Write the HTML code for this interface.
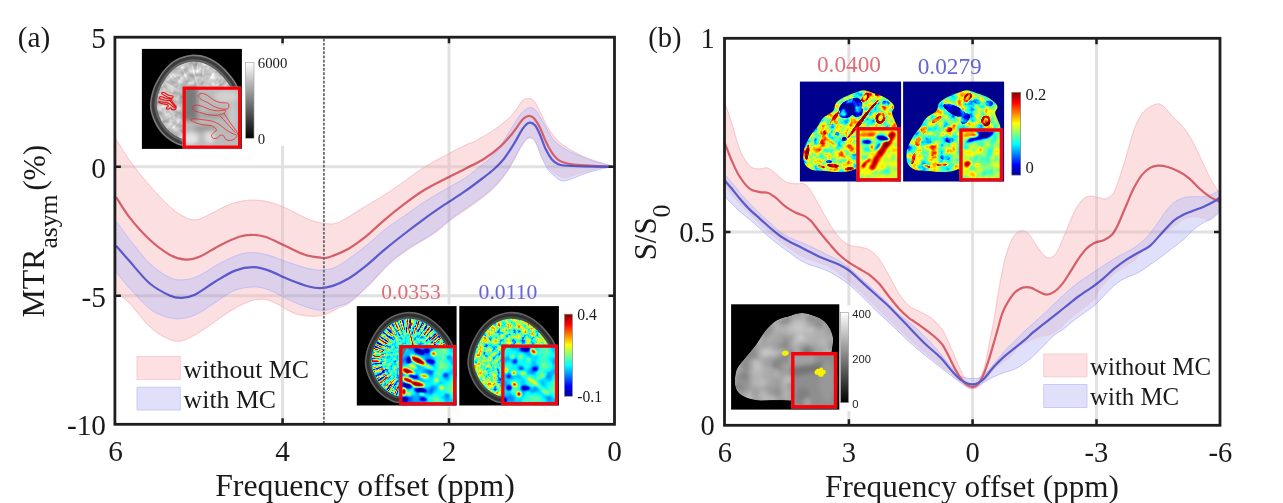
<!DOCTYPE html><html><head><meta charset="utf-8"><title>Figure</title><style>html,body{margin:0;padding:0;background:#fff}svg{display:block}</style></head><body>
<svg width="1283" height="503" viewBox="0 0 1283 503">
<defs>
<linearGradient id="gray" x1="0" y1="0" x2="0" y2="1"><stop offset="0" stop-color="#fff"/><stop offset="1" stop-color="#000"/></linearGradient>
<linearGradient id="jet" x1="0" y1="1" x2="0" y2="0">
<stop offset="0" stop-color="#00008f"/><stop offset="0.125" stop-color="#0000ff"/><stop offset="0.375" stop-color="#00ffff"/><stop offset="0.5" stop-color="#80ff80"/><stop offset="0.625" stop-color="#ffff00"/><stop offset="0.875" stop-color="#ff0000"/><stop offset="1" stop-color="#800000"/></linearGradient>
<clipPath id="clipA"><rect x="114.9" y="37.2" width="499.6" height="387.1"/></clipPath>
<clipPath id="clipB"><rect x="724.5" y="38.3" width="495.5" height="387"/></clipPath>
<filter id="fjet" color-interpolation-filters="sRGB" x="-5%" y="-5%" width="110%" height="110%">
<feGaussianBlur stdDeviation="0.55" result="b"/>
<feTurbulence type="fractalNoise" baseFrequency="0.33" numOctaves="2" seed="7" result="n"/>
<feColorMatrix in="n" type="matrix" values="1 0 0 0 0 1 0 0 0 0 1 0 0 0 0 0 0 0 0 1" result="ng"/>
<feComposite in="b" in2="ng" operator="arithmetic" k1="0" k2="1" k3="0.9" k4="-0.45" result="v"/>
<feComponentTransfer in="v" result="c"><feFuncR type="table" tableValues="0 0 0 0 0.5 1 1 1 0.5"/><feFuncG type="table" tableValues="0 0 0.5 1 1 1 0.5 0 0"/><feFuncB type="table" tableValues="0.56 1 1 1 0.5 0 0 0 0"/></feComponentTransfer>
<feComposite in="c" in2="SourceAlpha" operator="in"/>
</filter>
<filter id="fjets" color-interpolation-filters="sRGB" x="-5%" y="-5%" width="110%" height="110%">
<feGaussianBlur stdDeviation="1.6" result="b"/>
<feComponentTransfer in="b" result="c"><feFuncR type="table" tableValues="0 0 0 0 0.5 1 1 1 0.5"/><feFuncG type="table" tableValues="0 0 0.5 1 1 1 0.5 0 0"/><feFuncB type="table" tableValues="0.56 1 1 1 0.5 0 0 0 0"/></feComponentTransfer>
<feComposite in="c" in2="SourceAlpha" operator="in"/>
</filter>
<filter id="fgray" color-interpolation-filters="sRGB" x="-5%" y="-5%" width="110%" height="110%">
<feGaussianBlur stdDeviation="0.6" result="b"/>
<feTurbulence type="fractalNoise" baseFrequency="0.16" numOctaves="2" seed="11" result="n"/>
<feColorMatrix in="n" type="matrix" values="1 0 0 0 0 1 0 0 0 0 1 0 0 0 0 0 0 0 0 1" result="ng"/>
<feComposite in="b" in2="ng" operator="arithmetic" k1="0.5" k2="0.6" k3="0" k4="0" result="v"/>
<feComposite in="v" in2="SourceAlpha" operator="in"/>
</filter>
<filter id="fblur" x="-5%" y="-5%" width="110%" height="110%"><feGaussianBlur stdDeviation="0.7"/></filter>
<filter id="fblur2" x="-5%" y="-5%" width="110%" height="110%"><feGaussianBlur stdDeviation="2.2"/></filter>
</defs>
<rect width="1283" height="503" fill="#fff"/>
<g stroke="#000" opacity="0.115" stroke-width="3" fill="none"><path d="M115.5 166.7H614.5 M115.5 295.7H614.5"/><path d="M282.6 38V45.5 M282.6 146V424"/><path d="M449.0 38V304.5 M449.0 407V424"/></g>
<g clip-path="url(#clipA)"><clipPath id="cpA"><path d="M116.0 139.0C118.3 142.6 124.3 153.0 129.9 160.8C135.5 168.6 143.2 178.1 149.8 185.7C156.4 193.3 164.0 201.4 169.6 206.5C175.2 211.6 179.3 214.3 183.6 216.5C187.9 218.7 191.2 220.2 195.5 219.9C199.8 219.6 203.8 217.1 209.4 214.5C215.0 211.9 222.7 207.0 229.3 204.6C235.9 202.2 242.6 200.6 249.2 200.2C255.8 199.8 262.4 200.4 269.0 202.0C275.6 203.6 282.3 206.6 288.9 209.5C295.5 212.4 302.8 217.2 308.8 219.5C314.8 221.8 319.7 222.9 324.7 223.4C329.7 223.9 331.9 225.2 338.6 222.4C345.3 219.6 357.3 211.2 365.0 206.6C372.7 202.0 378.3 199.0 384.9 194.7C391.5 190.4 398.2 185.6 404.8 181.0C411.4 176.4 417.3 171.5 424.6 167.0C431.9 162.5 441.9 157.4 448.5 153.8C455.1 150.2 459.8 147.8 464.4 145.6C469.0 143.4 471.3 143.2 476.3 140.6C481.3 137.9 488.9 133.3 494.2 129.7C499.5 126.1 504.5 122.1 508.1 118.8C511.8 115.5 513.8 112.8 516.1 109.8C518.4 106.8 520.1 102.8 522.1 100.9C524.1 99.0 526.0 98.5 528.0 98.5C530.0 98.5 532.0 98.7 534.0 100.9C536.0 103.1 537.7 107.3 540.0 111.8C542.3 116.3 545.2 123.2 547.9 127.7C550.5 132.2 553.2 135.6 555.9 138.6C558.5 141.6 560.8 143.4 563.8 145.6C566.8 147.8 570.4 149.8 573.7 151.6C577.0 153.4 580.4 155.0 583.7 156.5C587.0 158.0 590.3 159.3 593.6 160.5C596.9 161.7 600.3 162.5 603.6 163.5C606.9 164.5 611.9 166.0 613.5 166.5L613.5 166.9C611.9 167.1 606.9 167.3 603.6 167.8C600.3 168.3 596.9 169.2 593.6 169.9C590.3 170.6 587.0 171.1 583.7 172.0C580.4 172.9 577.0 174.4 573.7 175.4C570.4 176.4 567.1 178.2 563.8 177.8C560.5 177.4 556.5 174.7 553.9 173.0C551.2 171.3 549.9 170.2 547.9 167.5C545.9 164.8 544.0 161.4 541.9 157.0C539.8 152.6 537.0 144.3 535.0 141.2C533.0 138.0 531.5 138.3 530.0 138.1C528.5 137.9 527.6 138.4 526.0 140.2C524.4 141.9 522.8 144.1 520.1 148.6C517.5 153.1 513.4 161.6 510.1 167.0C506.8 172.4 503.8 176.7 500.2 181.0C496.6 185.3 492.9 189.0 488.3 193.0C483.7 197.0 478.4 200.7 472.4 205.0C466.4 209.3 459.1 213.9 452.5 218.8C445.9 223.7 439.8 229.6 432.6 234.5C425.4 239.4 416.7 243.6 409.5 248.5C402.3 253.4 396.2 257.7 389.6 263.7C383.0 269.7 376.4 278.1 369.8 284.6C363.2 291.1 355.1 298.6 349.9 302.5C344.7 306.4 342.8 305.8 338.6 307.8C334.4 309.8 329.7 313.3 324.7 314.7C319.7 316.1 314.1 316.4 308.8 316.1C303.5 315.8 297.9 314.6 292.9 312.7C287.9 310.8 283.6 307.0 279.0 304.8C274.4 302.6 270.1 300.0 265.1 299.4C260.1 298.8 255.2 299.3 249.2 301.4C243.2 303.4 235.3 308.1 229.3 311.7C223.3 315.2 219.0 318.9 213.4 322.7C207.8 326.5 201.1 331.5 195.5 334.6C189.9 337.7 184.6 340.7 179.6 341.2C174.6 341.7 170.7 340.0 165.7 337.6C160.7 335.2 155.8 332.3 149.8 326.7C143.8 321.1 135.5 309.6 129.9 303.8C124.3 298.0 118.3 293.9 116.0 291.9Z"/></clipPath><clipPath id="cuA"><path d="M116.0 139.0C118.3 142.6 124.3 153.0 129.9 160.8C135.5 168.6 143.2 178.1 149.8 185.7C156.4 193.3 164.0 201.4 169.6 206.5C175.2 211.6 179.3 214.3 183.6 216.5C187.9 218.7 191.2 220.2 195.5 219.9C199.8 219.6 203.8 217.1 209.4 214.5C215.0 211.9 222.7 207.0 229.3 204.6C235.9 202.2 242.6 200.6 249.2 200.2C255.8 199.8 262.4 200.4 269.0 202.0C275.6 203.6 282.3 206.6 288.9 209.5C295.5 212.4 302.8 217.2 308.8 219.5C314.8 221.8 319.7 222.9 324.7 223.4C329.7 223.9 331.9 225.2 338.6 222.4C345.3 219.6 357.3 211.2 365.0 206.6C372.7 202.0 378.3 199.0 384.9 194.7C391.5 190.4 398.2 185.6 404.8 181.0C411.4 176.4 417.3 171.5 424.6 167.0C431.9 162.5 441.9 157.4 448.5 153.8C455.1 150.2 459.8 147.8 464.4 145.6C469.0 143.4 471.3 143.2 476.3 140.6C481.3 137.9 488.9 133.3 494.2 129.7C499.5 126.1 504.5 122.1 508.1 118.8C511.8 115.5 513.8 112.8 516.1 109.8C518.4 106.8 520.1 102.8 522.1 100.9C524.1 99.0 526.0 98.5 528.0 98.5C530.0 98.5 532.0 98.7 534.0 100.9C536.0 103.1 537.7 107.3 540.0 111.8C542.3 116.3 545.2 123.2 547.9 127.7C550.5 132.2 553.2 135.6 555.9 138.6C558.5 141.6 560.8 143.4 563.8 145.6C566.8 147.8 570.4 149.8 573.7 151.6C577.0 153.4 580.4 155.0 583.7 156.5C587.0 158.0 590.3 159.3 593.6 160.5C596.9 161.7 600.3 162.5 603.6 163.5C606.9 164.5 611.9 166.0 613.5 166.5L613.5 166.9C611.9 167.1 606.9 167.3 603.6 167.8C600.3 168.3 596.9 169.2 593.6 169.9C590.3 170.6 587.0 171.1 583.7 172.0C580.4 172.9 577.0 174.4 573.7 175.4C570.4 176.4 567.1 178.2 563.8 177.8C560.5 177.4 556.5 174.7 553.9 173.0C551.2 171.3 549.9 170.2 547.9 167.5C545.9 164.8 544.0 161.4 541.9 157.0C539.8 152.6 537.0 144.3 535.0 141.2C533.0 138.0 531.5 138.3 530.0 138.1C528.5 137.9 527.6 138.4 526.0 140.2C524.4 141.9 522.8 144.1 520.1 148.6C517.5 153.1 513.4 161.6 510.1 167.0C506.8 172.4 503.8 176.7 500.2 181.0C496.6 185.3 492.9 189.0 488.3 193.0C483.7 197.0 478.4 200.7 472.4 205.0C466.4 209.3 459.1 213.9 452.5 218.8C445.9 223.7 439.8 229.6 432.6 234.5C425.4 239.4 416.7 243.6 409.5 248.5C402.3 253.4 396.2 257.7 389.6 263.7C383.0 269.7 376.4 278.1 369.8 284.6C363.2 291.1 355.1 298.6 349.9 302.5C344.7 306.4 342.8 305.8 338.6 307.8C334.4 309.8 329.7 313.3 324.7 314.7C319.7 316.1 314.1 316.4 308.8 316.1C303.5 315.8 297.9 314.6 292.9 312.7C287.9 310.8 283.6 307.0 279.0 304.8C274.4 302.6 270.1 300.0 265.1 299.4C260.1 298.8 255.2 299.3 249.2 301.4C243.2 303.4 235.3 308.1 229.3 311.7C223.3 315.2 219.0 318.9 213.4 322.7C207.8 326.5 201.1 331.5 195.5 334.6C189.9 337.7 184.6 340.7 179.6 341.2C174.6 341.7 170.7 340.0 165.7 337.6C160.7 335.2 155.8 332.3 149.8 326.7C143.8 321.1 135.5 309.6 129.9 303.8C124.3 298.0 118.3 293.9 116.0 291.9Z"/><path d="M116.0 220.9C118.3 224.1 124.3 232.7 129.9 239.8C135.5 246.9 143.2 257.3 149.8 263.6C156.4 269.9 164.0 274.8 169.6 277.5C175.2 280.2 178.6 280.2 183.6 279.9C188.6 279.6 193.6 278.2 199.5 275.5C205.4 272.8 212.7 267.1 219.3 263.6C225.9 260.1 233.6 256.5 239.2 254.7C244.8 252.9 248.1 252.6 253.1 252.7C258.1 252.8 263.0 253.7 269.0 255.3C275.0 257.0 282.3 260.4 288.9 262.6C295.5 264.8 303.2 267.4 308.8 268.6C314.4 269.8 317.7 270.5 322.7 270.0C327.7 269.5 331.6 269.5 338.6 265.6C345.7 261.7 357.3 252.5 365.0 246.5C372.7 240.5 378.3 234.7 384.9 229.5C391.5 224.3 398.2 220.2 404.8 215.6C411.4 211.0 418.0 206.0 424.6 201.7C431.2 197.4 437.9 193.7 444.5 189.8C451.1 185.9 459.1 181.9 464.4 178.5C469.7 175.1 471.3 173.5 476.3 169.5C481.3 165.5 488.9 160.5 494.2 154.5C499.5 148.5 504.1 139.8 508.1 133.7C512.1 127.6 515.5 121.6 518.1 117.8C520.8 114.0 522.0 112.5 524.0 110.8C526.0 109.1 528.0 107.8 530.0 107.8C532.0 107.8 533.7 108.1 536.0 110.8C538.3 113.5 541.2 119.2 543.9 123.7C546.5 128.2 549.2 134.0 551.9 137.7C554.5 141.3 556.5 143.1 559.8 145.6C563.1 148.1 567.8 150.6 571.8 152.6C575.8 154.6 580.1 156.1 583.7 157.5C587.3 158.9 590.3 160.0 593.6 161.1C596.9 162.2 600.3 163.0 603.6 163.9C606.9 164.8 611.9 166.1 613.5 166.5L613.5 166.9C611.9 167.1 606.9 167.6 603.6 168.3C600.3 169.0 596.9 170.0 593.6 170.9C590.3 171.8 587.3 172.6 583.7 173.9C580.1 175.2 575.4 177.7 571.8 178.8C568.1 180.0 564.8 181.4 561.8 180.8C558.8 180.2 556.2 177.4 553.9 175.5C551.6 173.6 549.9 172.5 547.9 169.5C545.9 166.5 544.0 162.3 541.9 157.5C539.8 152.7 537.0 144.0 535.0 140.6C533.0 137.2 531.5 137.3 530.0 137.1C528.5 136.9 527.6 137.4 526.0 139.2C524.4 140.9 522.8 143.1 520.1 147.6C517.5 152.1 513.4 160.5 510.1 165.9C506.8 171.3 503.8 175.5 500.2 179.8C496.6 184.1 492.9 187.7 488.3 191.7C483.7 195.7 478.4 199.4 472.4 203.7C466.4 208.0 459.1 212.6 452.5 217.6C445.9 222.6 439.8 228.5 432.6 233.5C425.4 238.5 416.7 242.6 409.5 247.5C402.3 252.4 396.2 256.7 389.6 262.7C383.0 268.7 376.4 277.1 369.8 283.6C363.2 290.1 355.1 297.8 349.9 301.5C344.7 305.2 342.8 304.3 338.6 305.8C334.4 307.3 329.7 310.1 324.7 310.4C319.7 310.7 314.8 309.6 308.8 307.8C302.8 306.0 295.5 302.8 288.9 299.8C282.3 296.8 275.0 292.0 269.0 289.9C263.0 287.8 259.1 286.7 253.1 286.9C247.2 287.1 239.9 288.1 233.3 290.9C226.7 293.7 219.7 299.8 213.4 303.8C207.1 307.8 201.1 312.2 195.5 314.7C189.9 317.2 184.6 318.4 179.6 318.7C174.6 319.0 170.7 318.3 165.7 316.7C160.7 315.1 155.8 313.5 149.8 308.8C143.8 304.1 135.5 294.6 129.9 288.5C124.3 282.4 118.3 274.8 116.0 272.0Z"/></clipPath><path d="M116.0 139.0C118.3 142.6 124.3 153.0 129.9 160.8C135.5 168.6 143.2 178.1 149.8 185.7C156.4 193.3 164.0 201.4 169.6 206.5C175.2 211.6 179.3 214.3 183.6 216.5C187.9 218.7 191.2 220.2 195.5 219.9C199.8 219.6 203.8 217.1 209.4 214.5C215.0 211.9 222.7 207.0 229.3 204.6C235.9 202.2 242.6 200.6 249.2 200.2C255.8 199.8 262.4 200.4 269.0 202.0C275.6 203.6 282.3 206.6 288.9 209.5C295.5 212.4 302.8 217.2 308.8 219.5C314.8 221.8 319.7 222.9 324.7 223.4C329.7 223.9 331.9 225.2 338.6 222.4C345.3 219.6 357.3 211.2 365.0 206.6C372.7 202.0 378.3 199.0 384.9 194.7C391.5 190.4 398.2 185.6 404.8 181.0C411.4 176.4 417.3 171.5 424.6 167.0C431.9 162.5 441.9 157.4 448.5 153.8C455.1 150.2 459.8 147.8 464.4 145.6C469.0 143.4 471.3 143.2 476.3 140.6C481.3 137.9 488.9 133.3 494.2 129.7C499.5 126.1 504.5 122.1 508.1 118.8C511.8 115.5 513.8 112.8 516.1 109.8C518.4 106.8 520.1 102.8 522.1 100.9C524.1 99.0 526.0 98.5 528.0 98.5C530.0 98.5 532.0 98.7 534.0 100.9C536.0 103.1 537.7 107.3 540.0 111.8C542.3 116.3 545.2 123.2 547.9 127.7C550.5 132.2 553.2 135.6 555.9 138.6C558.5 141.6 560.8 143.4 563.8 145.6C566.8 147.8 570.4 149.8 573.7 151.6C577.0 153.4 580.4 155.0 583.7 156.5C587.0 158.0 590.3 159.3 593.6 160.5C596.9 161.7 600.3 162.5 603.6 163.5C606.9 164.5 611.9 166.0 613.5 166.5L613.5 166.9C611.9 167.1 606.9 167.3 603.6 167.8C600.3 168.3 596.9 169.2 593.6 169.9C590.3 170.6 587.0 171.1 583.7 172.0C580.4 172.9 577.0 174.4 573.7 175.4C570.4 176.4 567.1 178.2 563.8 177.8C560.5 177.4 556.5 174.7 553.9 173.0C551.2 171.3 549.9 170.2 547.9 167.5C545.9 164.8 544.0 161.4 541.9 157.0C539.8 152.6 537.0 144.3 535.0 141.2C533.0 138.0 531.5 138.3 530.0 138.1C528.5 137.9 527.6 138.4 526.0 140.2C524.4 141.9 522.8 144.1 520.1 148.6C517.5 153.1 513.4 161.6 510.1 167.0C506.8 172.4 503.8 176.7 500.2 181.0C496.6 185.3 492.9 189.0 488.3 193.0C483.7 197.0 478.4 200.7 472.4 205.0C466.4 209.3 459.1 213.9 452.5 218.8C445.9 223.7 439.8 229.6 432.6 234.5C425.4 239.4 416.7 243.6 409.5 248.5C402.3 253.4 396.2 257.7 389.6 263.7C383.0 269.7 376.4 278.1 369.8 284.6C363.2 291.1 355.1 298.6 349.9 302.5C344.7 306.4 342.8 305.8 338.6 307.8C334.4 309.8 329.7 313.3 324.7 314.7C319.7 316.1 314.1 316.4 308.8 316.1C303.5 315.8 297.9 314.6 292.9 312.7C287.9 310.8 283.6 307.0 279.0 304.8C274.4 302.6 270.1 300.0 265.1 299.4C260.1 298.8 255.2 299.3 249.2 301.4C243.2 303.4 235.3 308.1 229.3 311.7C223.3 315.2 219.0 318.9 213.4 322.7C207.8 326.5 201.1 331.5 195.5 334.6C189.9 337.7 184.6 340.7 179.6 341.2C174.6 341.7 170.7 340.0 165.7 337.6C160.7 335.2 155.8 332.3 149.8 326.7C143.8 321.1 135.5 309.6 129.9 303.8C124.3 298.0 118.3 293.9 116.0 291.9Z" fill="#FCDFE0" stroke="#F7C2C6" stroke-width="0.7"/><path d="M116.0 220.9C118.3 224.1 124.3 232.7 129.9 239.8C135.5 246.9 143.2 257.3 149.8 263.6C156.4 269.9 164.0 274.8 169.6 277.5C175.2 280.2 178.6 280.2 183.6 279.9C188.6 279.6 193.6 278.2 199.5 275.5C205.4 272.8 212.7 267.1 219.3 263.6C225.9 260.1 233.6 256.5 239.2 254.7C244.8 252.9 248.1 252.6 253.1 252.7C258.1 252.8 263.0 253.7 269.0 255.3C275.0 257.0 282.3 260.4 288.9 262.6C295.5 264.8 303.2 267.4 308.8 268.6C314.4 269.8 317.7 270.5 322.7 270.0C327.7 269.5 331.6 269.5 338.6 265.6C345.7 261.7 357.3 252.5 365.0 246.5C372.7 240.5 378.3 234.7 384.9 229.5C391.5 224.3 398.2 220.2 404.8 215.6C411.4 211.0 418.0 206.0 424.6 201.7C431.2 197.4 437.9 193.7 444.5 189.8C451.1 185.9 459.1 181.9 464.4 178.5C469.7 175.1 471.3 173.5 476.3 169.5C481.3 165.5 488.9 160.5 494.2 154.5C499.5 148.5 504.1 139.8 508.1 133.7C512.1 127.6 515.5 121.6 518.1 117.8C520.8 114.0 522.0 112.5 524.0 110.8C526.0 109.1 528.0 107.8 530.0 107.8C532.0 107.8 533.7 108.1 536.0 110.8C538.3 113.5 541.2 119.2 543.9 123.7C546.5 128.2 549.2 134.0 551.9 137.7C554.5 141.3 556.5 143.1 559.8 145.6C563.1 148.1 567.8 150.6 571.8 152.6C575.8 154.6 580.1 156.1 583.7 157.5C587.3 158.9 590.3 160.0 593.6 161.1C596.9 162.2 600.3 163.0 603.6 163.9C606.9 164.8 611.9 166.1 613.5 166.5L613.5 166.9C611.9 167.1 606.9 167.6 603.6 168.3C600.3 169.0 596.9 170.0 593.6 170.9C590.3 171.8 587.3 172.6 583.7 173.9C580.1 175.2 575.4 177.7 571.8 178.8C568.1 180.0 564.8 181.4 561.8 180.8C558.8 180.2 556.2 177.4 553.9 175.5C551.6 173.6 549.9 172.5 547.9 169.5C545.9 166.5 544.0 162.3 541.9 157.5C539.8 152.7 537.0 144.0 535.0 140.6C533.0 137.2 531.5 137.3 530.0 137.1C528.5 136.9 527.6 137.4 526.0 139.2C524.4 140.9 522.8 143.1 520.1 147.6C517.5 152.1 513.4 160.5 510.1 165.9C506.8 171.3 503.8 175.5 500.2 179.8C496.6 184.1 492.9 187.7 488.3 191.7C483.7 195.7 478.4 199.4 472.4 203.7C466.4 208.0 459.1 212.6 452.5 217.6C445.9 222.6 439.8 228.5 432.6 233.5C425.4 238.5 416.7 242.6 409.5 247.5C402.3 252.4 396.2 256.7 389.6 262.7C383.0 268.7 376.4 277.1 369.8 283.6C363.2 290.1 355.1 297.8 349.9 301.5C344.7 305.2 342.8 304.3 338.6 305.8C334.4 307.3 329.7 310.1 324.7 310.4C319.7 310.7 314.8 309.6 308.8 307.8C302.8 306.0 295.5 302.8 288.9 299.8C282.3 296.8 275.0 292.0 269.0 289.9C263.0 287.8 259.1 286.7 253.1 286.9C247.2 287.1 239.9 288.1 233.3 290.9C226.7 293.7 219.7 299.8 213.4 303.8C207.1 307.8 201.1 312.2 195.5 314.7C189.9 317.2 184.6 318.4 179.6 318.7C174.6 319.0 170.7 318.3 165.7 316.7C160.7 315.1 155.8 313.5 149.8 308.8C143.8 304.1 135.5 294.6 129.9 288.5C124.3 282.4 118.3 274.8 116.0 272.0Z" fill="#E0E0FA"/><path d="M116.0 220.9C118.3 224.1 124.3 232.7 129.9 239.8C135.5 246.9 143.2 257.3 149.8 263.6C156.4 269.9 164.0 274.8 169.6 277.5C175.2 280.2 178.6 280.2 183.6 279.9C188.6 279.6 193.6 278.2 199.5 275.5C205.4 272.8 212.7 267.1 219.3 263.6C225.9 260.1 233.6 256.5 239.2 254.7C244.8 252.9 248.1 252.6 253.1 252.7C258.1 252.8 263.0 253.7 269.0 255.3C275.0 257.0 282.3 260.4 288.9 262.6C295.5 264.8 303.2 267.4 308.8 268.6C314.4 269.8 317.7 270.5 322.7 270.0C327.7 269.5 331.6 269.5 338.6 265.6C345.7 261.7 357.3 252.5 365.0 246.5C372.7 240.5 378.3 234.7 384.9 229.5C391.5 224.3 398.2 220.2 404.8 215.6C411.4 211.0 418.0 206.0 424.6 201.7C431.2 197.4 437.9 193.7 444.5 189.8C451.1 185.9 459.1 181.9 464.4 178.5C469.7 175.1 471.3 173.5 476.3 169.5C481.3 165.5 488.9 160.5 494.2 154.5C499.5 148.5 504.1 139.8 508.1 133.7C512.1 127.6 515.5 121.6 518.1 117.8C520.8 114.0 522.0 112.5 524.0 110.8C526.0 109.1 528.0 107.8 530.0 107.8C532.0 107.8 533.7 108.1 536.0 110.8C538.3 113.5 541.2 119.2 543.9 123.7C546.5 128.2 549.2 134.0 551.9 137.7C554.5 141.3 556.5 143.1 559.8 145.6C563.1 148.1 567.8 150.6 571.8 152.6C575.8 154.6 580.1 156.1 583.7 157.5C587.3 158.9 590.3 160.0 593.6 161.1C596.9 162.2 600.3 163.0 603.6 163.9C606.9 164.8 611.9 166.1 613.5 166.5L613.5 166.9C611.9 167.1 606.9 167.6 603.6 168.3C600.3 169.0 596.9 170.0 593.6 170.9C590.3 171.8 587.3 172.6 583.7 173.9C580.1 175.2 575.4 177.7 571.8 178.8C568.1 180.0 564.8 181.4 561.8 180.8C558.8 180.2 556.2 177.4 553.9 175.5C551.6 173.6 549.9 172.5 547.9 169.5C545.9 166.5 544.0 162.3 541.9 157.5C539.8 152.7 537.0 144.0 535.0 140.6C533.0 137.2 531.5 137.3 530.0 137.1C528.5 136.9 527.6 137.4 526.0 139.2C524.4 140.9 522.8 143.1 520.1 147.6C517.5 152.1 513.4 160.5 510.1 165.9C506.8 171.3 503.8 175.5 500.2 179.8C496.6 184.1 492.9 187.7 488.3 191.7C483.7 195.7 478.4 199.4 472.4 203.7C466.4 208.0 459.1 212.6 452.5 217.6C445.9 222.6 439.8 228.5 432.6 233.5C425.4 238.5 416.7 242.6 409.5 247.5C402.3 252.4 396.2 256.7 389.6 262.7C383.0 268.7 376.4 277.1 369.8 283.6C363.2 290.1 355.1 297.8 349.9 301.5C344.7 305.2 342.8 304.3 338.6 305.8C334.4 307.3 329.7 310.1 324.7 310.4C319.7 310.7 314.8 309.6 308.8 307.8C302.8 306.0 295.5 302.8 288.9 299.8C282.3 296.8 275.0 292.0 269.0 289.9C263.0 287.8 259.1 286.7 253.1 286.9C247.2 287.1 239.9 288.1 233.3 290.9C226.7 293.7 219.7 299.8 213.4 303.8C207.1 307.8 201.1 312.2 195.5 314.7C189.9 317.2 184.6 318.4 179.6 318.7C174.6 319.0 170.7 318.3 165.7 316.7C160.7 315.1 155.8 313.5 149.8 308.8C143.8 304.1 135.5 294.6 129.9 288.5C124.3 282.4 118.3 274.8 116.0 272.0Z" fill="#DDD0EA" clip-path="url(#cpA)"/><path d="M116.0 139.0C118.3 142.6 124.3 153.0 129.9 160.8C135.5 168.6 143.2 178.1 149.8 185.7C156.4 193.3 164.0 201.4 169.6 206.5C175.2 211.6 179.3 214.3 183.6 216.5C187.9 218.7 191.2 220.2 195.5 219.9C199.8 219.6 203.8 217.1 209.4 214.5C215.0 211.9 222.7 207.0 229.3 204.6C235.9 202.2 242.6 200.6 249.2 200.2C255.8 199.8 262.4 200.4 269.0 202.0C275.6 203.6 282.3 206.6 288.9 209.5C295.5 212.4 302.8 217.2 308.8 219.5C314.8 221.8 319.7 222.9 324.7 223.4C329.7 223.9 331.9 225.2 338.6 222.4C345.3 219.6 357.3 211.2 365.0 206.6C372.7 202.0 378.3 199.0 384.9 194.7C391.5 190.4 398.2 185.6 404.8 181.0C411.4 176.4 417.3 171.5 424.6 167.0C431.9 162.5 441.9 157.4 448.5 153.8C455.1 150.2 459.8 147.8 464.4 145.6C469.0 143.4 471.3 143.2 476.3 140.6C481.3 137.9 488.9 133.3 494.2 129.7C499.5 126.1 504.5 122.1 508.1 118.8C511.8 115.5 513.8 112.8 516.1 109.8C518.4 106.8 520.1 102.8 522.1 100.9C524.1 99.0 526.0 98.5 528.0 98.5C530.0 98.5 532.0 98.7 534.0 100.9C536.0 103.1 537.7 107.3 540.0 111.8C542.3 116.3 545.2 123.2 547.9 127.7C550.5 132.2 553.2 135.6 555.9 138.6C558.5 141.6 560.8 143.4 563.8 145.6C566.8 147.8 570.4 149.8 573.7 151.6C577.0 153.4 580.4 155.0 583.7 156.5C587.0 158.0 590.3 159.3 593.6 160.5C596.9 161.7 600.3 162.5 603.6 163.5C606.9 164.5 611.9 166.0 613.5 166.5L613.5 166.9C611.9 167.1 606.9 167.3 603.6 167.8C600.3 168.3 596.9 169.2 593.6 169.9C590.3 170.6 587.0 171.1 583.7 172.0C580.4 172.9 577.0 174.4 573.7 175.4C570.4 176.4 567.1 178.2 563.8 177.8C560.5 177.4 556.5 174.7 553.9 173.0C551.2 171.3 549.9 170.2 547.9 167.5C545.9 164.8 544.0 161.4 541.9 157.0C539.8 152.6 537.0 144.3 535.0 141.2C533.0 138.0 531.5 138.3 530.0 138.1C528.5 137.9 527.6 138.4 526.0 140.2C524.4 141.9 522.8 144.1 520.1 148.6C517.5 153.1 513.4 161.6 510.1 167.0C506.8 172.4 503.8 176.7 500.2 181.0C496.6 185.3 492.9 189.0 488.3 193.0C483.7 197.0 478.4 200.7 472.4 205.0C466.4 209.3 459.1 213.9 452.5 218.8C445.9 223.7 439.8 229.6 432.6 234.5C425.4 239.4 416.7 243.6 409.5 248.5C402.3 253.4 396.2 257.7 389.6 263.7C383.0 269.7 376.4 278.1 369.8 284.6C363.2 291.1 355.1 298.6 349.9 302.5C344.7 306.4 342.8 305.8 338.6 307.8C334.4 309.8 329.7 313.3 324.7 314.7C319.7 316.1 314.1 316.4 308.8 316.1C303.5 315.8 297.9 314.6 292.9 312.7C287.9 310.8 283.6 307.0 279.0 304.8C274.4 302.6 270.1 300.0 265.1 299.4C260.1 298.8 255.2 299.3 249.2 301.4C243.2 303.4 235.3 308.1 229.3 311.7C223.3 315.2 219.0 318.9 213.4 322.7C207.8 326.5 201.1 331.5 195.5 334.6C189.9 337.7 184.6 340.7 179.6 341.2C174.6 341.7 170.7 340.0 165.7 337.6C160.7 335.2 155.8 332.3 149.8 326.7C143.8 321.1 135.5 309.6 129.9 303.8C124.3 298.0 118.3 293.9 116.0 291.9Z" fill="none" stroke="#F3B8C0" stroke-opacity="0.5" stroke-width="0.7"/><path d="M116.0 220.9C118.3 224.1 124.3 232.7 129.9 239.8C135.5 246.9 143.2 257.3 149.8 263.6C156.4 269.9 164.0 274.8 169.6 277.5C175.2 280.2 178.6 280.2 183.6 279.9C188.6 279.6 193.6 278.2 199.5 275.5C205.4 272.8 212.7 267.1 219.3 263.6C225.9 260.1 233.6 256.5 239.2 254.7C244.8 252.9 248.1 252.6 253.1 252.7C258.1 252.8 263.0 253.7 269.0 255.3C275.0 257.0 282.3 260.4 288.9 262.6C295.5 264.8 303.2 267.4 308.8 268.6C314.4 269.8 317.7 270.5 322.7 270.0C327.7 269.5 331.6 269.5 338.6 265.6C345.7 261.7 357.3 252.5 365.0 246.5C372.7 240.5 378.3 234.7 384.9 229.5C391.5 224.3 398.2 220.2 404.8 215.6C411.4 211.0 418.0 206.0 424.6 201.7C431.2 197.4 437.9 193.7 444.5 189.8C451.1 185.9 459.1 181.9 464.4 178.5C469.7 175.1 471.3 173.5 476.3 169.5C481.3 165.5 488.9 160.5 494.2 154.5C499.5 148.5 504.1 139.8 508.1 133.7C512.1 127.6 515.5 121.6 518.1 117.8C520.8 114.0 522.0 112.5 524.0 110.8C526.0 109.1 528.0 107.8 530.0 107.8C532.0 107.8 533.7 108.1 536.0 110.8C538.3 113.5 541.2 119.2 543.9 123.7C546.5 128.2 549.2 134.0 551.9 137.7C554.5 141.3 556.5 143.1 559.8 145.6C563.1 148.1 567.8 150.6 571.8 152.6C575.8 154.6 580.1 156.1 583.7 157.5C587.3 158.9 590.3 160.0 593.6 161.1C596.9 162.2 600.3 163.0 603.6 163.9C606.9 164.8 611.9 166.1 613.5 166.5L613.5 166.9C611.9 167.1 606.9 167.6 603.6 168.3C600.3 169.0 596.9 170.0 593.6 170.9C590.3 171.8 587.3 172.6 583.7 173.9C580.1 175.2 575.4 177.7 571.8 178.8C568.1 180.0 564.8 181.4 561.8 180.8C558.8 180.2 556.2 177.4 553.9 175.5C551.6 173.6 549.9 172.5 547.9 169.5C545.9 166.5 544.0 162.3 541.9 157.5C539.8 152.7 537.0 144.0 535.0 140.6C533.0 137.2 531.5 137.3 530.0 137.1C528.5 136.9 527.6 137.4 526.0 139.2C524.4 140.9 522.8 143.1 520.1 147.6C517.5 152.1 513.4 160.5 510.1 165.9C506.8 171.3 503.8 175.5 500.2 179.8C496.6 184.1 492.9 187.7 488.3 191.7C483.7 195.7 478.4 199.4 472.4 203.7C466.4 208.0 459.1 212.6 452.5 217.6C445.9 222.6 439.8 228.5 432.6 233.5C425.4 238.5 416.7 242.6 409.5 247.5C402.3 252.4 396.2 256.7 389.6 262.7C383.0 268.7 376.4 277.1 369.8 283.6C363.2 290.1 355.1 297.8 349.9 301.5C344.7 305.2 342.8 304.3 338.6 305.8C334.4 307.3 329.7 310.1 324.7 310.4C319.7 310.7 314.8 309.6 308.8 307.8C302.8 306.0 295.5 302.8 288.9 299.8C282.3 296.8 275.0 292.0 269.0 289.9C263.0 287.8 259.1 286.7 253.1 286.9C247.2 287.1 239.9 288.1 233.3 290.9C226.7 293.7 219.7 299.8 213.4 303.8C207.1 307.8 201.1 312.2 195.5 314.7C189.9 317.2 184.6 318.4 179.6 318.7C174.6 319.0 170.7 318.3 165.7 316.7C160.7 315.1 155.8 313.5 149.8 308.8C143.8 304.1 135.5 294.6 129.9 288.5C124.3 282.4 118.3 274.8 116.0 272.0Z" fill="none" stroke="#BCBCF8" stroke-width="0.9"/><path d="M116.0 197.0C118.3 200.5 124.3 210.8 129.9 217.9C135.5 225.0 143.2 233.7 149.8 239.8C156.4 245.9 163.7 251.4 169.6 254.7C175.5 258.0 180.5 259.3 185.5 259.6C190.5 259.9 193.9 259.0 199.5 256.7C205.1 254.4 212.7 249.0 219.3 245.7C225.9 242.4 233.9 238.6 239.2 236.8C244.5 235.0 246.9 234.8 251.2 234.8C255.5 234.8 259.5 235.0 265.1 236.8C270.7 238.6 278.4 242.7 285.0 245.7C291.6 248.7 298.9 252.7 304.8 254.7C310.8 256.7 316.7 257.3 320.7 257.7C324.7 258.1 324.0 258.8 328.7 257.3C333.4 255.8 342.6 252.0 348.6 248.7C354.7 245.3 358.9 242.0 365.0 237.2C371.1 232.3 378.3 225.2 384.9 219.6C391.5 214.0 398.2 208.7 404.8 203.7C411.4 198.7 418.0 193.9 424.6 189.8C431.2 185.7 437.9 182.6 444.5 179.2C451.1 175.8 457.8 172.6 464.4 169.2C471.0 165.8 478.3 162.5 484.3 158.7C490.3 154.9 495.6 150.8 500.2 146.6C504.8 142.4 508.8 137.7 512.1 133.7C515.4 129.7 518.1 125.3 520.1 122.7C522.1 120.1 522.5 119.4 524.0 118.2C525.5 117.0 527.3 115.8 529.0 115.8C530.7 115.8 532.2 116.2 534.0 118.2C535.8 120.2 538.0 123.8 540.0 127.7C542.0 131.6 543.9 137.4 545.9 141.6C547.9 145.8 549.9 149.6 551.9 152.6C553.9 155.6 555.8 157.8 557.8 159.5C559.8 161.2 561.1 161.7 563.8 162.5C566.4 163.3 568.7 163.9 573.7 164.5C578.7 165.1 587.0 165.5 593.6 165.9C600.2 166.3 610.2 166.7 613.5 166.9" fill="none" stroke="#D65E69" stroke-width="2.2"/><path d="M116.0 245.7C118.3 248.3 124.3 255.3 129.9 261.6C135.5 267.9 143.2 277.9 149.8 283.5C156.4 289.1 164.3 293.0 169.6 295.4C174.9 297.8 177.3 298.0 181.6 297.8C185.9 297.6 189.9 297.1 195.5 294.4C201.1 291.7 208.8 285.5 215.4 281.5C222.0 277.5 228.9 273.0 235.2 270.6C241.5 268.2 247.5 267.2 253.1 267.2C258.7 267.2 263.0 268.6 269.0 270.6C275.0 272.7 282.3 276.9 288.9 279.5C295.5 282.1 303.5 285.1 308.8 286.5C314.1 287.9 316.7 288.2 320.7 288.1C324.7 288.0 328.0 287.5 332.7 285.9C337.4 284.3 343.2 281.7 348.6 278.5C354.0 275.3 358.9 271.5 365.0 266.6C371.1 261.8 378.3 254.9 384.9 249.4C391.5 243.9 398.2 238.6 404.8 233.5C411.4 228.4 418.0 223.4 424.6 218.6C431.2 213.8 437.9 209.2 444.5 204.7C451.1 200.2 458.1 196.1 464.4 191.7C470.7 187.3 477.3 182.3 482.3 178.5C487.3 174.7 490.6 172.3 494.2 169.0C497.8 165.7 500.9 162.7 504.2 158.5C507.5 154.3 511.1 148.4 514.1 143.6C517.1 138.8 520.1 132.8 522.1 129.7C524.1 126.5 524.7 125.9 526.0 124.7C527.3 123.5 528.5 122.6 530.0 122.7C531.5 122.8 533.3 123.3 535.0 125.3C536.7 127.3 538.2 130.6 540.0 134.7C541.8 138.8 543.9 145.5 545.9 149.6C547.9 153.7 549.9 157.1 551.9 159.5C553.9 161.9 555.8 162.9 557.8 163.9C559.8 164.9 559.5 165.1 563.8 165.5C568.1 165.9 575.4 166.3 583.7 166.5C592.0 166.7 608.5 166.8 613.5 166.9" fill="none" stroke="#5A5ACD" stroke-width="2.2"/></g>
<g clip-path="url(#cuA)"><g stroke="#000" opacity="0.075" stroke-width="3" fill="none"><path d="M115.5 166.7H614.5 M115.5 295.7H614.5"/><path d="M282.6 38V45.5 M282.6 146V424"/><path d="M449.0 38V304.5 M449.0 407V424"/></g></g>
<path d="M323.9 38.7V424" stroke="#6e6e6e" stroke-width="1.9" stroke-dasharray="2.7 1.5" fill="none"/>
<g stroke="#1e1e1e" stroke-width="2.8" fill="none"><rect x="114.9" y="37.2" width="499.6" height="387.1"/><path stroke-width="2.5" d="M282.6 424.3v-6 M282.6 37.2v6 M449.0 424.3v-6 M449.0 37.2v6 M114.9 166.7h6 M614.5 166.7h-6 M114.9 295.7h6 M614.5 295.7h-6"/></g>
<g transform="translate(141.9 48.9)"><rect width="100" height="100" fill="#000"/><g filter="url(#fblur)"><path d="M49.8 5.8C54.8 5.4 60.1 6.3 64.8 7.9C69.5 9.5 73.8 12.4 77.7 15.4C81.7 18.4 85.5 22.4 88.5 26.2C91.5 30.0 94.4 33.7 96.0 38.0C97.6 42.3 98.2 47.0 98.0 52.0C97.8 57.0 97.0 63.0 95.0 68.0C93.0 73.0 89.8 78.0 86.0 82.0C82.2 86.0 76.8 89.4 72.0 92.0C67.2 94.6 62.0 96.7 57.0 97.5C52.0 98.3 46.0 97.5 42.3 97.1C38.6 96.7 37.8 96.6 34.8 95.3C31.8 94.0 27.6 91.7 24.6 89.2C21.6 86.7 18.9 83.8 16.6 80.4C14.3 77.0 12.0 72.8 10.6 68.8C9.2 64.8 8.0 60.8 8.0 56.3C8.0 51.8 9.2 46.2 10.6 41.6C12.0 37.0 14.3 32.7 16.6 28.8C18.9 24.9 21.6 21.1 24.6 18.0C27.6 14.9 30.6 12.1 34.8 10.1C39.0 8.1 44.8 6.2 49.8 5.8Z" fill="#7c7c7c"/><path d="M49.9 7.4C54.7 7.1 59.9 7.9 64.3 9.4C68.8 11.0 73.0 13.7 76.8 16.7C80.6 19.6 84.3 23.5 87.2 27.1C90.2 30.7 92.9 34.3 94.5 38.5C96.0 42.6 96.5 47.2 96.4 52.0C96.2 56.8 95.4 62.6 93.5 67.4C91.6 72.3 88.5 77.1 84.8 81.0C81.1 84.8 76.0 88.1 71.3 90.6C66.6 93.1 61.6 95.1 56.8 95.9C52.0 96.7 46.2 95.9 42.6 95.5C39.1 95.2 38.2 95.1 35.4 93.8C32.5 92.5 28.5 90.3 25.6 87.9C22.6 85.5 20.1 82.7 17.8 79.4C15.6 76.1 13.4 72.1 12.0 68.2C10.7 64.3 9.5 60.5 9.5 56.1C9.5 51.8 10.7 46.4 12.0 42.0C13.4 37.5 15.6 33.4 17.8 29.6C20.1 25.8 22.6 22.2 25.6 19.2C28.5 16.2 31.3 13.5 35.4 11.6C39.4 9.6 45.0 7.8 49.9 7.4Z" fill="#3a3a3a"/><path d="M50.0 10.4C54.5 10.1 59.3 10.9 63.5 12.3C67.7 13.7 71.6 16.3 75.1 19.1C78.7 21.8 82.1 25.4 84.8 28.8C87.6 32.2 90.2 35.5 91.6 39.4C93.0 43.3 93.5 47.5 93.4 52.0C93.2 56.5 92.5 61.9 90.7 66.4C88.9 70.9 86.0 75.4 82.6 79.0C79.1 82.6 74.3 85.7 70.0 88.0C65.6 90.3 60.9 92.2 56.5 93.0C52.0 93.7 46.6 92.9 43.2 92.6C39.9 92.3 39.2 92.2 36.5 91.0C33.8 89.8 30.1 87.7 27.3 85.5C24.6 83.2 22.2 80.6 20.1 77.6C18.0 74.5 16.0 70.7 14.7 67.1C13.4 63.5 12.4 59.9 12.4 55.9C12.4 51.8 13.4 46.8 14.7 42.6C16.0 38.5 18.0 34.7 20.1 31.1C22.2 27.6 24.6 24.2 27.3 21.4C30.1 18.6 32.7 16.1 36.5 14.3C40.3 12.5 45.5 10.7 50.0 10.4Z" fill="#626262"/></g><g filter="url(#fgray)"><path d="M50.1 12.7C54.3 12.4 58.9 13.2 62.8 14.5C66.8 15.9 70.5 18.3 73.8 20.9C77.2 23.5 80.4 26.9 83.0 30.1C85.6 33.3 88.0 36.4 89.4 40.1C90.7 43.8 91.2 47.8 91.1 52.0C90.9 56.2 90.2 61.3 88.5 65.6C86.8 69.8 84.1 74.1 80.9 77.5C77.6 80.9 73.1 83.8 69.0 86.0C64.9 88.2 60.4 90.0 56.2 90.7C52.0 91.4 46.9 90.6 43.7 90.3C40.6 90.0 39.9 89.9 37.3 88.8C34.8 87.7 31.3 85.7 28.7 83.6C26.1 81.5 23.9 79.0 21.9 76.1C19.9 73.2 18.0 69.7 16.8 66.3C15.6 62.9 14.6 59.5 14.6 55.7C14.6 51.8 15.6 47.1 16.8 43.2C18.0 39.3 19.9 35.6 21.9 32.3C23.9 28.9 26.1 25.7 28.7 23.1C31.3 20.5 33.8 18.1 37.3 16.4C40.9 14.7 45.8 13.0 50.1 12.7Z" fill="#e6e6e6"/><g fill="none" stroke="#fff" stroke-width="1.3" stroke-linecap="round"><path d="M50 16C52 26 57 36 58 50"/><path d="M30 24L38 33"/><path d="M24 34L34 40"/><path d="M20 46L31 48"/><path d="M20 58L30 57"/><path d="M24 70L33 65"/><path d="M62 20L60 30"/><path d="M72 24L67 33"/><path d="M80 33L72 39"/><path d="M86 44L76 47"/><path d="M31 79L38 71"/><path d="M40 87L44 78"/><path d="M40 18L44 28"/><path d="M56 15L55 24"/></g></g><path d="M15.7 8.9C15.9 7.9 18.3 6.8 19.8 6.8C21.3 6.8 23.0 7.8 24.9 8.9C26.8 10.0 29.1 12.2 31.2 13.4C33.3 14.6 35.3 15.4 37.6 15.9C39.9 16.4 43.8 15.9 45.2 16.6C46.6 17.4 46.3 19.4 46.2 20.4C46.1 21.3 45.8 22.0 44.6 22.3C43.4 22.6 41.1 22.7 38.9 22.3C36.7 21.9 33.5 20.9 31.2 19.8C28.9 18.7 27.0 17.1 24.9 15.9C22.8 14.7 20.0 14.0 18.5 12.8C17.0 11.6 15.5 9.9 15.7 8.9ZM9.6 21.0C9.8 20.1 11.7 18.7 13.4 18.5C15.1 18.3 17.5 19.1 19.8 19.8C22.1 20.6 24.9 22.3 27.4 23.0C29.9 23.7 32.5 24.1 35.0 24.2C37.5 24.3 41.6 23.2 42.7 23.6C43.8 24.0 42.9 26.0 41.4 26.8C39.9 27.6 36.5 28.5 33.8 28.7C31.0 28.9 27.4 28.4 24.9 28.0C22.3 27.6 20.6 26.7 18.5 26.1C16.4 25.5 13.6 25.1 12.1 24.2C10.6 23.3 9.4 21.9 9.6 21.0ZM7.7 33.1C7.5 32.4 10.1 32.2 12.1 32.2C14.1 32.2 17.0 32.7 19.8 33.1C22.6 33.5 25.9 33.6 28.7 34.4C31.4 35.1 34.0 36.2 36.3 37.6C38.6 39.0 40.6 41.2 42.7 42.7C44.8 44.2 47.1 45.5 49.0 46.5C50.9 47.5 53.6 48.0 54.1 49.0C54.6 50.0 53.2 51.4 52.2 52.2C51.2 53.0 49.3 53.8 47.8 53.9C46.3 54.0 44.4 53.6 43.3 52.9C42.2 52.2 42.1 50.5 41.4 49.7C40.7 49.0 39.8 48.4 38.9 48.4C38.0 48.4 37.0 49.2 36.3 49.7C35.5 50.2 35.3 51.2 34.4 51.6C33.5 52.0 31.5 52.2 30.6 51.8C29.7 51.4 28.8 50.0 28.9 49.0C29.0 48.0 30.4 46.7 31.2 45.9C32.0 45.1 33.7 44.9 33.8 44.0C33.9 43.1 33.0 41.6 31.9 40.8C30.8 39.9 29.2 39.3 27.4 38.9C25.6 38.5 23.3 38.6 21.0 38.2C18.7 37.8 15.6 37.1 13.4 36.3C11.2 35.4 7.9 33.8 7.7 33.1ZM41.4 26.8C42.4 28.3 45.4 33.0 47.5 36.0C49.6 39.0 52.7 42.9 54.0 45.0C55.3 47.1 55.0 47.9 55.2 48.5M37.5 29.3C38.8 30.7 42.5 34.8 45.0 37.5C47.5 40.2 51.2 44.4 52.5 45.8" transform="translate(13.8 40.8) scale(0.375)" fill="none" stroke="#f8080c" stroke-width="2.9"/><g transform="translate(40.7 37.7)"><rect width="58.6" height="62.1" fill="#bababa"/><g filter="url(#fblur2)"><rect x="0" y="0" width="15" height="34" fill="#7a7a7a"/><ellipse cx="44" cy="10" rx="12" ry="6" fill="#d2d2d2"/><ellipse cx="8" cy="52" rx="8" ry="6" fill="#e4e4e4"/><ellipse cx="27" cy="50" rx="5" ry="7" fill="#e0e0e0"/><ellipse cx="30" cy="29" rx="16" ry="2.5" fill="#9c9c9c"/><ellipse cx="50" cy="30" rx="4" ry="14" fill="#c8c8c8"/><ellipse cx="22" cy="42" rx="12" ry="3" fill="#9a9a9a"/></g><path d="M15.7 8.9C15.9 7.9 18.3 6.8 19.8 6.8C21.3 6.8 23.0 7.8 24.9 8.9C26.8 10.0 29.1 12.2 31.2 13.4C33.3 14.6 35.3 15.4 37.6 15.9C39.9 16.4 43.8 15.9 45.2 16.6C46.6 17.4 46.3 19.4 46.2 20.4C46.1 21.3 45.8 22.0 44.6 22.3C43.4 22.6 41.1 22.7 38.9 22.3C36.7 21.9 33.5 20.9 31.2 19.8C28.9 18.7 27.0 17.1 24.9 15.9C22.8 14.7 20.0 14.0 18.5 12.8C17.0 11.6 15.5 9.9 15.7 8.9ZM9.6 21.0C9.8 20.1 11.7 18.7 13.4 18.5C15.1 18.3 17.5 19.1 19.8 19.8C22.1 20.6 24.9 22.3 27.4 23.0C29.9 23.7 32.5 24.1 35.0 24.2C37.5 24.3 41.6 23.2 42.7 23.6C43.8 24.0 42.9 26.0 41.4 26.8C39.9 27.6 36.5 28.5 33.8 28.7C31.0 28.9 27.4 28.4 24.9 28.0C22.3 27.6 20.6 26.7 18.5 26.1C16.4 25.5 13.6 25.1 12.1 24.2C10.6 23.3 9.4 21.9 9.6 21.0ZM7.7 33.1C7.5 32.4 10.1 32.2 12.1 32.2C14.1 32.2 17.0 32.7 19.8 33.1C22.6 33.5 25.9 33.6 28.7 34.4C31.4 35.1 34.0 36.2 36.3 37.6C38.6 39.0 40.6 41.2 42.7 42.7C44.8 44.2 47.1 45.5 49.0 46.5C50.9 47.5 53.6 48.0 54.1 49.0C54.6 50.0 53.2 51.4 52.2 52.2C51.2 53.0 49.3 53.8 47.8 53.9C46.3 54.0 44.4 53.6 43.3 52.9C42.2 52.2 42.1 50.5 41.4 49.7C40.7 49.0 39.8 48.4 38.9 48.4C38.0 48.4 37.0 49.2 36.3 49.7C35.5 50.2 35.3 51.2 34.4 51.6C33.5 52.0 31.5 52.2 30.6 51.8C29.7 51.4 28.8 50.0 28.9 49.0C29.0 48.0 30.4 46.7 31.2 45.9C32.0 45.1 33.7 44.9 33.8 44.0C33.9 43.1 33.0 41.6 31.9 40.8C30.8 39.9 29.2 39.3 27.4 38.9C25.6 38.5 23.3 38.6 21.0 38.2C18.7 37.8 15.6 37.1 13.4 36.3C11.2 35.4 7.9 33.8 7.7 33.1ZM41.4 26.8C42.4 28.3 45.4 33.0 47.5 36.0C49.6 39.0 52.7 42.9 54.0 45.0C55.3 47.1 55.0 47.9 55.2 48.5M37.5 29.3C38.8 30.7 42.5 34.8 45.0 37.5C47.5 40.2 51.2 44.4 52.5 45.8" fill="none" stroke="#f02428" stroke-width="0.8"/><rect x="1.6" y="1.6" width="55.4" height="58.9" fill="none" stroke="#fa0008" stroke-width="3.2"/></g></g><rect x="245.6" y="62.4" width="8.4" height="75.8" fill="url(#gray)" stroke="#9a9a9a" stroke-width="0.6"/><text x="257.8" y="68.2" font-size="14.80" text-anchor="start" fill="#1a1a1a" font-family="Liberation Serif, serif" >6000</text><text x="257.8" y="144.4" font-size="14.80" text-anchor="start" fill="#1a1a1a" font-family="Liberation Serif, serif" >0</text>
<defs><filter id="fa21" color-interpolation-filters="sRGB" x="-5%" y="-5%" width="110%" height="110%"><feGaussianBlur stdDeviation="0.45" result="b"/><feTurbulence type="fractalNoise" baseFrequency="0.300" numOctaves="2" seed="5" result="n"/><feColorMatrix in="n" type="matrix" values="1 0 0 0 0 1 0 0 0 0 1 0 0 0 0 0 0 0 0 1" result="ng"/><feComposite in="b" in2="ng" operator="arithmetic" k1="0" k2="1" k3="0.55" k4="-0.275" result="v"/><feComponentTransfer in="v" result="c"><feFuncR type="table" tableValues="0 0 0 0 0.5 1 1 1 0.5"/><feFuncG type="table" tableValues="0 0 0.5 1 1 1 0.5 0 0"/><feFuncB type="table" tableValues="0.56 1 1 1 0.5 0 0 0 0"/></feComponentTransfer><feComposite in="c" in2="SourceAlpha" operator="in"/></filter><filter id="fa22" color-interpolation-filters="sRGB" x="-5%" y="-5%" width="110%" height="110%"><feGaussianBlur stdDeviation="0.60" result="b"/><feTurbulence type="fractalNoise" baseFrequency="0.210" numOctaves="3" seed="9" result="n"/><feColorMatrix in="n" type="matrix" values="1 0 0 0 0 1 0 0 0 0 1 0 0 0 0 0 0 0 0 1" result="ng"/><feComposite in="b" in2="ng" operator="arithmetic" k1="0" k2="1" k3="0.85" k4="-0.425" result="v"/><feComponentTransfer in="v" result="c"><feFuncR type="table" tableValues="0 0 0 0 0.5 1 1 1 0.5"/><feFuncG type="table" tableValues="0 0 0.5 1 1 1 0.5 0 0"/><feFuncB type="table" tableValues="0.56 1 1 1 0.5 0 0 0 0"/></feComponentTransfer><feComposite in="c" in2="SourceAlpha" operator="in"/></filter><filter id="fa2b" color-interpolation-filters="sRGB" x="-5%" y="-5%" width="110%" height="110%"><feGaussianBlur stdDeviation="1.15" result="b"/><feTurbulence type="fractalNoise" baseFrequency="0.080" numOctaves="2" seed="4" result="n"/><feColorMatrix in="n" type="matrix" values="1 0 0 0 0 1 0 0 0 0 1 0 0 0 0 0 0 0 0 1" result="ng"/><feComposite in="b" in2="ng" operator="arithmetic" k1="0" k2="1" k3="0.35" k4="-0.175" result="v"/><feComponentTransfer in="v" result="c"><feFuncR type="table" tableValues="0 0 0 0 0.5 1 1 1 0.5"/><feFuncG type="table" tableValues="0 0 0.5 1 1 1 0.5 0 0"/><feFuncB type="table" tableValues="0.56 1 1 1 0.5 0 0 0 0"/></feComponentTransfer><feComposite in="c" in2="SourceAlpha" operator="in"/></filter><clipPath id="cbrain"><path d="M50.1 12.7C54.3 12.4 58.9 13.2 62.8 14.5C66.8 15.9 70.5 18.3 73.8 20.9C77.2 23.5 80.4 26.9 83.0 30.1C85.6 33.3 88.0 36.4 89.4 40.1C90.7 43.8 91.2 47.8 91.1 52.0C90.9 56.2 90.2 61.3 88.5 65.6C86.8 69.8 84.1 74.1 80.9 77.5C77.6 80.9 73.1 83.8 69.0 86.0C64.9 88.2 60.4 90.0 56.2 90.7C52.0 91.4 46.9 90.6 43.7 90.3C40.6 90.0 39.9 89.9 37.3 88.8C34.8 87.7 31.3 85.7 28.7 83.6C26.1 81.5 23.9 79.0 21.9 76.1C19.9 73.2 18.0 69.7 16.8 66.3C15.6 62.9 14.6 59.5 14.6 55.7C14.6 51.8 15.6 47.1 16.8 43.2C18.0 39.3 19.9 35.6 21.9 32.3C23.9 28.9 26.1 25.7 28.7 23.1C31.3 20.5 33.8 18.1 37.3 16.4C40.9 14.7 45.8 13.0 50.1 12.7Z"/></clipPath></defs><g transform="translate(356.8 306.1)"><rect width="99.8" height="99.4" fill="#000"/><g filter="url(#fblur)"><path d="M49.8 5.8C54.8 5.4 60.1 6.3 64.8 7.9C69.5 9.5 73.8 12.4 77.7 15.4C81.7 18.4 85.5 22.4 88.5 26.2C91.5 30.0 94.4 33.7 96.0 38.0C97.6 42.3 98.2 47.0 98.0 52.0C97.8 57.0 97.0 63.0 95.0 68.0C93.0 73.0 89.8 78.0 86.0 82.0C82.2 86.0 76.8 89.4 72.0 92.0C67.2 94.6 62.0 96.7 57.0 97.5C52.0 98.3 46.0 97.5 42.3 97.1C38.6 96.7 37.8 96.6 34.8 95.3C31.8 94.0 27.6 91.7 24.6 89.2C21.6 86.7 18.9 83.8 16.6 80.4C14.3 77.0 12.0 72.8 10.6 68.8C9.2 64.8 8.0 60.8 8.0 56.3C8.0 51.8 9.2 46.2 10.6 41.6C12.0 37.0 14.3 32.7 16.6 28.8C18.9 24.9 21.6 21.1 24.6 18.0C27.6 14.9 30.6 12.1 34.8 10.1C39.0 8.1 44.8 6.2 49.8 5.8Z" fill="#626262"/><path d="M49.9 7.4C54.7 7.1 59.9 7.9 64.3 9.4C68.8 11.0 73.0 13.7 76.8 16.7C80.6 19.6 84.3 23.5 87.2 27.1C90.2 30.7 92.9 34.3 94.5 38.5C96.0 42.6 96.5 47.2 96.4 52.0C96.2 56.8 95.4 62.6 93.5 67.4C91.6 72.3 88.5 77.1 84.8 81.0C81.1 84.8 76.0 88.1 71.3 90.6C66.6 93.1 61.6 95.1 56.8 95.9C52.0 96.7 46.2 95.9 42.6 95.5C39.1 95.2 38.2 95.1 35.4 93.8C32.5 92.5 28.5 90.3 25.6 87.9C22.6 85.5 20.1 82.7 17.8 79.4C15.6 76.1 13.4 72.1 12.0 68.2C10.7 64.3 9.5 60.5 9.5 56.1C9.5 51.8 10.7 46.4 12.0 42.0C13.4 37.5 15.6 33.4 17.8 29.6C20.1 25.8 22.6 22.2 25.6 19.2C28.5 16.2 31.3 13.5 35.4 11.6C39.4 9.6 45.0 7.8 49.9 7.4Z" fill="#2e2e2e"/><path d="M50.0 10.4C54.5 10.1 59.3 10.9 63.5 12.3C67.7 13.7 71.6 16.3 75.1 19.1C78.7 21.8 82.1 25.4 84.8 28.8C87.6 32.2 90.2 35.5 91.6 39.4C93.0 43.3 93.5 47.5 93.4 52.0C93.2 56.5 92.5 61.9 90.7 66.4C88.9 70.9 86.0 75.4 82.6 79.0C79.1 82.6 74.3 85.7 70.0 88.0C65.6 90.3 60.9 92.2 56.5 93.0C52.0 93.7 46.6 92.9 43.2 92.6C39.9 92.3 39.2 92.2 36.5 91.0C33.8 89.8 30.1 87.7 27.3 85.5C24.6 83.2 22.2 80.6 20.1 77.6C18.0 74.5 16.0 70.7 14.7 67.1C13.4 63.5 12.4 59.9 12.4 55.9C12.4 51.8 13.4 46.8 14.7 42.6C16.0 38.5 18.0 34.7 20.1 31.1C22.2 27.6 24.6 24.2 27.3 21.4C30.1 18.6 32.7 16.1 36.5 14.3C40.3 12.5 45.5 10.7 50.0 10.4Z" fill="#4a4a4a"/></g><g clip-path="url(#cbrain)"><g filter="url(#fa21)"><rect x="-5" y="-5" width="110" height="110" fill="#666666"/><path d="M50.3 18.3C54.0 18.0 57.9 18.6 61.3 19.8C64.7 21.0 67.8 23.1 70.7 25.3C73.6 27.5 76.4 30.4 78.6 33.2C80.8 35.9 82.9 38.6 84.1 41.8C85.2 44.9 85.6 48.4 85.5 52.0C85.4 55.6 84.8 60.0 83.3 63.7C81.9 67.3 79.6 71.0 76.8 73.9C74.0 76.8 70.1 79.3 66.5 81.2C63.0 83.1 59.2 84.6 55.6 85.2C52.0 85.8 47.6 85.2 44.9 84.9C42.2 84.7 41.5 84.6 39.4 83.6C37.2 82.6 34.2 81.0 31.9 79.2C29.7 77.3 27.8 75.2 26.1 72.7C24.4 70.2 22.8 67.2 21.7 64.3C20.7 61.3 19.8 58.4 19.8 55.1C19.8 51.8 20.7 47.8 21.7 44.4C22.8 41.1 24.4 37.9 26.1 35.1C27.8 32.2 29.7 29.5 31.9 27.2C34.2 24.9 36.3 22.9 39.4 21.4C42.5 19.9 46.7 18.5 50.3 18.3Z" fill="none" stroke="#ededed" stroke-width="10" stroke-dasharray="1.4 2.6 0.9 4.6 1.7 3.1 1.1 5.3"/><path d="M50.3 18.3C54.0 18.0 57.9 18.6 61.3 19.8C64.7 21.0 67.8 23.1 70.7 25.3C73.6 27.5 76.4 30.4 78.6 33.2C80.8 35.9 82.9 38.6 84.1 41.8C85.2 44.9 85.6 48.4 85.5 52.0C85.4 55.6 84.8 60.0 83.3 63.7C81.9 67.3 79.6 71.0 76.8 73.9C74.0 76.8 70.1 79.3 66.5 81.2C63.0 83.1 59.2 84.6 55.6 85.2C52.0 85.8 47.6 85.2 44.9 84.9C42.2 84.7 41.5 84.6 39.4 83.6C37.2 82.6 34.2 81.0 31.9 79.2C29.7 77.3 27.8 75.2 26.1 72.7C24.4 70.2 22.8 67.2 21.7 64.3C20.7 61.3 19.8 58.4 19.8 55.1C19.8 51.8 20.7 47.8 21.7 44.4C22.8 41.1 24.4 37.9 26.1 35.1C27.8 32.2 29.7 29.5 31.9 27.2C34.2 24.9 36.3 22.9 39.4 21.4C42.5 19.9 46.7 18.5 50.3 18.3Z" fill="none" stroke="#141414" stroke-width="10" stroke-dasharray="1.2 3.1 1.5 4.9 0.9 3.8" stroke-dashoffset="2.1"/><path d="M50.3 18.3C54.0 18.0 57.9 18.6 61.3 19.8C64.7 21.0 67.8 23.1 70.7 25.3C73.6 27.5 76.4 30.4 78.6 33.2C80.8 35.9 82.9 38.6 84.1 41.8C85.2 44.9 85.6 48.4 85.5 52.0C85.4 55.6 84.8 60.0 83.3 63.7C81.9 67.3 79.6 71.0 76.8 73.9C74.0 76.8 70.1 79.3 66.5 81.2C63.0 83.1 59.2 84.6 55.6 85.2C52.0 85.8 47.6 85.2 44.9 84.9C42.2 84.7 41.5 84.6 39.4 83.6C37.2 82.6 34.2 81.0 31.9 79.2C29.7 77.3 27.8 75.2 26.1 72.7C24.4 70.2 22.8 67.2 21.7 64.3C20.7 61.3 19.8 58.4 19.8 55.1C19.8 51.8 20.7 47.8 21.7 44.4C22.8 41.1 24.4 37.9 26.1 35.1C27.8 32.2 29.7 29.5 31.9 27.2C34.2 24.9 36.3 22.9 39.4 21.4C42.5 19.9 46.7 18.5 50.3 18.3Z" fill="none" stroke="#a8a8a8" stroke-width="8" stroke-dasharray="1 4.9 1.4 3.3 0.8 6.1" stroke-dashoffset="1.3"/><path d="M50.6 24.3C53.6 24.1 56.8 24.6 59.6 25.5C62.4 26.5 65.0 28.2 67.3 30.0C69.7 31.9 72.0 34.3 73.8 36.5C75.6 38.8 77.4 41.0 78.3 43.6C79.3 46.2 79.6 49.0 79.5 52.0C79.4 55.0 78.9 58.6 77.7 61.6C76.5 64.6 74.6 67.6 72.3 70.0C70.0 72.4 66.8 74.5 63.9 76.0C61.0 77.5 57.9 78.8 54.9 79.3C52.0 79.8 48.3 79.3 46.1 79.1C43.9 78.8 43.4 78.8 41.6 78.0C39.8 77.2 37.3 75.8 35.5 74.3C33.7 72.8 32.1 71.1 30.7 69.0C29.3 67.0 27.9 64.5 27.1 62.1C26.2 59.7 25.5 57.3 25.5 54.6C25.5 51.9 26.2 48.5 27.1 45.8C27.9 43.0 29.3 40.4 30.7 38.1C32.1 35.7 33.7 33.5 35.5 31.6C37.3 29.7 39.1 28.1 41.6 26.9C44.1 25.6 47.6 24.5 50.6 24.3Z" fill="none" stroke="#cccccc" stroke-width="7" stroke-dasharray="1.1 6.3" stroke-dashoffset="0.5"/><path d="M50.6 24.3C53.6 24.1 56.8 24.6 59.6 25.5C62.4 26.5 65.0 28.2 67.3 30.0C69.7 31.9 72.0 34.3 73.8 36.5C75.6 38.8 77.4 41.0 78.3 43.6C79.3 46.2 79.6 49.0 79.5 52.0C79.4 55.0 78.9 58.6 77.7 61.6C76.5 64.6 74.6 67.6 72.3 70.0C70.0 72.4 66.8 74.5 63.9 76.0C61.0 77.5 57.9 78.8 54.9 79.3C52.0 79.8 48.3 79.3 46.1 79.1C43.9 78.8 43.4 78.8 41.6 78.0C39.8 77.2 37.3 75.8 35.5 74.3C33.7 72.8 32.1 71.1 30.7 69.0C29.3 67.0 27.9 64.5 27.1 62.1C26.2 59.7 25.5 57.3 25.5 54.6C25.5 51.9 26.2 48.5 27.1 45.8C27.9 43.0 29.3 40.4 30.7 38.1C32.1 35.7 33.7 33.5 35.5 31.6C37.3 29.7 39.1 28.1 41.6 26.9C44.1 25.6 47.6 24.5 50.6 24.3Z" fill="none" stroke="#262626" stroke-width="6" stroke-dasharray="1.1 7.5" stroke-dashoffset="3.5"/><path d="M50 15C52 26 57 36 58 50" stroke="#e6e6e6" stroke-width="1.4" fill="none"/></g></g><g transform="translate(42.4 39.0)"><g filter="url(#fa2b)"><rect width="57.0" height="60.2" fill="#4f4f4f"/><rect x="34" width="23.0" height="60.2" fill="#636363"/><ellipse cx="18.4" cy="15.1" rx="8.5" ry="2.8" transform="rotate(28 18.4 15.1)" fill="#ffffff"/><ellipse cx="9.2" cy="26.9" rx="7.0" ry="3.0" transform="rotate(25 9.2 26.9)" fill="#ffffff"/><ellipse cx="8.5" cy="34.8" rx="5.0" ry="2.4" transform="rotate(20 8.5 34.8)" fill="#ffffff"/><ellipse cx="18.4" cy="39.0" rx="7.0" ry="2.7" transform="rotate(12 18.4 39.0)" fill="#ffffff"/><ellipse cx="4.6" cy="46.6" rx="2.4" ry="3.8" transform="rotate(0 4.6 46.6)" fill="#ffffff"/><ellipse cx="34.1" cy="8.5" rx="2.4" ry="2.0" transform="rotate(30 34.1 8.5)" fill="#f2f2f2"/><ellipse cx="24.9" cy="30.8" rx="4.0" ry="1.6" transform="rotate(15 24.9 30.8)" fill="#d9d9d9"/><ellipse cx="37.4" cy="35.0" rx="1.8" ry="1.5" transform="rotate(0 37.4 35.0)" fill="#cccccc"/><ellipse cx="42.6" cy="42.6" rx="2.2" ry="1.8" transform="rotate(40 42.6 42.6)" fill="#bfbfbf"/><ellipse cx="22.3" cy="48.1" rx="2.4" ry="1.6" transform="rotate(10 22.3 48.1)" fill="#d9d9d9"/><ellipse cx="9.8" cy="49.0" rx="2.0" ry="1.6" transform="rotate(0 9.8 49.0)" fill="#cccccc"/><ellipse cx="13.0" cy="21.0" rx="5.0" ry="1.6" transform="rotate(28 13.0 21.0)" fill="#b2b2b2"/><ellipse cx="30.0" cy="22.0" rx="5.0" ry="1.6" transform="rotate(25 30.0 22.0)" fill="#9e9e9e"/><ellipse cx="20.0" cy="6.5" rx="5.0" ry="2.4" transform="rotate(25 20.0 6.5)" fill="#000000"/><ellipse cx="10.0" cy="15.0" rx="2.0" ry="4.0" transform="rotate(10 10.0 15.0)" fill="#000000"/><ellipse cx="31.5" cy="16.4" rx="5.0" ry="1.8" transform="rotate(10 31.5 16.4)" fill="#0d0d0d"/><ellipse cx="8.5" cy="40.7" rx="5.0" ry="2.2" transform="rotate(15 8.5 40.7)" fill="#000000"/><ellipse cx="21.0" cy="45.2" rx="6.5" ry="2.2" transform="rotate(8 21.0 45.2)" fill="#000000"/><ellipse cx="24.3" cy="54.4" rx="3.5" ry="2.0" transform="rotate(10 24.3 54.4)" fill="#000000"/><ellipse cx="5.2" cy="54.7" rx="2.8" ry="2.2" transform="rotate(0 5.2 54.7)" fill="#000000"/><ellipse cx="27.5" cy="5.6" rx="2.5" ry="1.5" transform="rotate(0 27.5 5.6)" fill="#000000"/><ellipse cx="14.0" cy="31.0" rx="5.0" ry="1.6" transform="rotate(22 14.0 31.0)" fill="#0d0d0d"/><ellipse cx="46.0" cy="30.0" rx="3.0" ry="2.0" transform="rotate(0 46.0 30.0)" fill="#404040"/><ellipse cx="50.0" cy="12.0" rx="3.0" ry="2.2" transform="rotate(0 50.0 12.0)" fill="#454545"/><ellipse cx="48.0" cy="50.0" rx="3.0" ry="2.0" transform="rotate(0 48.0 50.0)" fill="#474747"/></g><path d="M0 0H9L0 19Z" fill="#6e6e6e" filter="url(#fblur)"/><rect x="1.6" y="1.6" width="53.8" height="57.0" fill="none" stroke="#fa0008" stroke-width="3.2"/></g></g><g transform="translate(459.3 306.1)"><rect width="99.6" height="99.4" fill="#000"/><g filter="url(#fblur)"><path d="M49.8 5.8C54.8 5.4 60.1 6.3 64.8 7.9C69.5 9.5 73.8 12.4 77.7 15.4C81.7 18.4 85.5 22.4 88.5 26.2C91.5 30.0 94.4 33.7 96.0 38.0C97.6 42.3 98.2 47.0 98.0 52.0C97.8 57.0 97.0 63.0 95.0 68.0C93.0 73.0 89.8 78.0 86.0 82.0C82.2 86.0 76.8 89.4 72.0 92.0C67.2 94.6 62.0 96.7 57.0 97.5C52.0 98.3 46.0 97.5 42.3 97.1C38.6 96.7 37.8 96.6 34.8 95.3C31.8 94.0 27.6 91.7 24.6 89.2C21.6 86.7 18.9 83.8 16.6 80.4C14.3 77.0 12.0 72.8 10.6 68.8C9.2 64.8 8.0 60.8 8.0 56.3C8.0 51.8 9.2 46.2 10.6 41.6C12.0 37.0 14.3 32.7 16.6 28.8C18.9 24.9 21.6 21.1 24.6 18.0C27.6 14.9 30.6 12.1 34.8 10.1C39.0 8.1 44.8 6.2 49.8 5.8Z" fill="#626262"/><path d="M49.9 7.4C54.7 7.1 59.9 7.9 64.3 9.4C68.8 11.0 73.0 13.7 76.8 16.7C80.6 19.6 84.3 23.5 87.2 27.1C90.2 30.7 92.9 34.3 94.5 38.5C96.0 42.6 96.5 47.2 96.4 52.0C96.2 56.8 95.4 62.6 93.5 67.4C91.6 72.3 88.5 77.1 84.8 81.0C81.1 84.8 76.0 88.1 71.3 90.6C66.6 93.1 61.6 95.1 56.8 95.9C52.0 96.7 46.2 95.9 42.6 95.5C39.1 95.2 38.2 95.1 35.4 93.8C32.5 92.5 28.5 90.3 25.6 87.9C22.6 85.5 20.1 82.7 17.8 79.4C15.6 76.1 13.4 72.1 12.0 68.2C10.7 64.3 9.5 60.5 9.5 56.1C9.5 51.8 10.7 46.4 12.0 42.0C13.4 37.5 15.6 33.4 17.8 29.6C20.1 25.8 22.6 22.2 25.6 19.2C28.5 16.2 31.3 13.5 35.4 11.6C39.4 9.6 45.0 7.8 49.9 7.4Z" fill="#2e2e2e"/><path d="M50.0 10.4C54.5 10.1 59.3 10.9 63.5 12.3C67.7 13.7 71.6 16.3 75.1 19.1C78.7 21.8 82.1 25.4 84.8 28.8C87.6 32.2 90.2 35.5 91.6 39.4C93.0 43.3 93.5 47.5 93.4 52.0C93.2 56.5 92.5 61.9 90.7 66.4C88.9 70.9 86.0 75.4 82.6 79.0C79.1 82.6 74.3 85.7 70.0 88.0C65.6 90.3 60.9 92.2 56.5 93.0C52.0 93.7 46.6 92.9 43.2 92.6C39.9 92.3 39.2 92.2 36.5 91.0C33.8 89.8 30.1 87.7 27.3 85.5C24.6 83.2 22.2 80.6 20.1 77.6C18.0 74.5 16.0 70.7 14.7 67.1C13.4 63.5 12.4 59.9 12.4 55.9C12.4 51.8 13.4 46.8 14.7 42.6C16.0 38.5 18.0 34.7 20.1 31.1C22.2 27.6 24.6 24.2 27.3 21.4C30.1 18.6 32.7 16.1 36.5 14.3C40.3 12.5 45.5 10.7 50.0 10.4Z" fill="#4a4a4a"/></g><g clip-path="url(#cbrain)"><g filter="url(#fa22)"><rect x="-5" y="-5" width="110" height="110" fill="#737373"/><path d="M50.2 16.0C54.1 15.7 58.3 16.4 61.9 17.6C65.6 18.8 68.9 21.1 72.0 23.5C75.1 25.8 78.0 28.9 80.4 31.9C82.8 34.8 85.0 37.7 86.3 41.1C87.5 44.4 88.0 48.1 87.8 52.0C87.7 55.9 87.1 60.6 85.5 64.5C83.9 68.4 81.5 72.3 78.5 75.4C75.5 78.5 71.3 81.2 67.6 83.2C63.8 85.2 59.7 86.8 55.9 87.5C52.0 88.2 47.3 87.5 44.4 87.2C41.5 86.9 40.8 86.8 38.5 85.8C36.2 84.7 33.0 83.0 30.6 81.0C28.2 79.1 26.2 76.8 24.3 74.2C22.5 71.5 20.8 68.2 19.7 65.1C18.5 62.0 17.6 58.9 17.6 55.4C17.6 51.8 18.5 47.5 19.7 43.9C20.8 40.3 22.5 37.0 24.3 33.9C26.2 30.8 28.2 27.9 30.6 25.5C33.0 23.0 35.3 20.9 38.5 19.3C41.8 17.7 46.3 16.2 50.2 16.0Z" fill="none" stroke="#878787" stroke-width="7"/><path d="M50.3 18.3C54.0 18.0 57.9 18.6 61.3 19.8C64.7 21.0 67.8 23.1 70.7 25.3C73.6 27.5 76.4 30.4 78.6 33.2C80.8 35.9 82.9 38.6 84.1 41.8C85.2 44.9 85.6 48.4 85.5 52.0C85.4 55.6 84.8 60.0 83.3 63.7C81.9 67.3 79.6 71.0 76.8 73.9C74.0 76.8 70.1 79.3 66.5 81.2C63.0 83.1 59.2 84.6 55.6 85.2C52.0 85.8 47.6 85.2 44.9 84.9C42.2 84.7 41.5 84.6 39.4 83.6C37.2 82.6 34.2 81.0 31.9 79.2C29.7 77.3 27.8 75.2 26.1 72.7C24.4 70.2 22.8 67.2 21.7 64.3C20.7 61.3 19.8 58.4 19.8 55.1C19.8 51.8 20.7 47.8 21.7 44.4C22.8 41.1 24.4 37.9 26.1 35.1C27.8 32.2 29.7 29.5 31.9 27.2C34.2 24.9 36.3 22.9 39.4 21.4C42.5 19.9 46.7 18.5 50.3 18.3Z" fill="none" stroke="#9e9e9e" stroke-width="9" stroke-dasharray="1.6 7.3"/></g></g><g transform="translate(42.0 38.5)"><g filter="url(#fa2b)"><rect width="56.8" height="60.6" fill="#5e5e5e"/><ellipse cx="32.1" cy="6.9" rx="3.2" ry="2.0" transform="rotate(40 32.1 6.9)" fill="#ffffff"/><ellipse cx="12.5" cy="28.5" rx="2.2" ry="1.8" transform="rotate(0 12.5 28.5)" fill="#e6e6e6"/><ellipse cx="13.1" cy="39.7" rx="2.6" ry="1.8" transform="rotate(25 13.1 39.7)" fill="#f2f2f2"/><ellipse cx="17.7" cy="49.5" rx="2.2" ry="2.6" transform="rotate(0 17.7 49.5)" fill="#ffffff"/><ellipse cx="4.6" cy="26.0" rx="1.8" ry="2.2" transform="rotate(0 4.6 26.0)" fill="#d9d9d9"/><ellipse cx="23.6" cy="4.6" rx="5.0" ry="2.2" transform="rotate(0 23.6 4.6)" fill="#0d0d0d"/><ellipse cx="24.3" cy="43.3" rx="4.5" ry="2.2" transform="rotate(0 24.3 43.3)" fill="#0d0d0d"/><ellipse cx="7.9" cy="43.3" rx="2.6" ry="2.4" transform="rotate(0 7.9 43.3)" fill="#000000"/><ellipse cx="34.1" cy="24.3" rx="3.0" ry="2.2" transform="rotate(0 34.1 24.3)" fill="#262626"/><ellipse cx="13.8" cy="17.0" rx="2.5" ry="2.5" transform="rotate(0 13.8 17.0)" fill="#1f1f1f"/><ellipse cx="7.2" cy="32.0" rx="2.2" ry="2.0" transform="rotate(0 7.2 32.0)" fill="#262626"/><ellipse cx="2.6" cy="56.0" rx="2.5" ry="2.5" transform="rotate(0 2.6 56.0)" fill="#000000"/><ellipse cx="20.0" cy="24.0" rx="2.5" ry="2.0" transform="rotate(0 20.0 24.0)" fill="#262626"/><ellipse cx="33.0" cy="38.0" rx="9.0" ry="1.8" transform="rotate(38 33.0 38.0)" fill="#999999"/><ellipse cx="22.0" cy="29.0" rx="3.0" ry="2.0" transform="rotate(30 22.0 29.0)" fill="#999999"/><ellipse cx="44.0" cy="47.0" rx="5.0" ry="1.6" transform="rotate(40 44.0 47.0)" fill="#8c8c8c"/><ellipse cx="11.0" cy="12.0" rx="2.0" ry="1.6" transform="rotate(0 11.0 12.0)" fill="#999999"/><ellipse cx="19.0" cy="12.0" rx="2.0" ry="1.6" transform="rotate(0 19.0 12.0)" fill="#949494"/><ellipse cx="27.0" cy="15.0" rx="2.2" ry="1.6" transform="rotate(0 27.0 15.0)" fill="#8f8f8f"/><ellipse cx="40.0" cy="32.0" rx="6.0" ry="1.5" transform="rotate(-25 40.0 32.0)" fill="#858585"/></g><path d="M0 0H7L0 12Z" fill="#6e6e6e" filter="url(#fblur)"/><rect x="1.6" y="1.6" width="53.6" height="57.4" fill="none" stroke="#fa0008" stroke-width="3.2"/></g></g><rect x="564.5" y="314.2" width="7.8" height="82.0" fill="url(#jet)" stroke="#777" stroke-width="0.6"/><text x="577.2" y="320.1" font-size="15.70" text-anchor="start" fill="#1a1a1a" font-family="Liberation Serif, serif" >0.4</text><text x="577.2" y="402.3" font-size="15.70" text-anchor="start" fill="#1a1a1a" font-family="Liberation Serif, serif" >-0.1</text><text x="411.0" y="298.6" font-size="21.60" text-anchor="middle" fill="#DC6E78" font-family="Liberation Serif, serif" >0.0353</text><text x="508.0" y="298.6" font-size="21.70" text-anchor="middle" fill="#6464D2" font-family="Liberation Serif, serif" >0.0110</text>
<rect x="137.0" y="356.6" width="43.2" height="22.8" fill="#FDE0E2" stroke="#F8C4C8" stroke-width="0.8"/><rect x="137.0" y="387.2" width="43.2" height="22.8" fill="#E0E0FA" stroke="#C0C0F8" stroke-width="0.8"/><text x="183.6" y="377.6" font-size="25.80" text-anchor="start" fill="#1a1a1a" font-family="Liberation Serif, serif" >without MC</text><text x="183.6" y="407.6" font-size="25.80" text-anchor="start" fill="#1a1a1a" font-family="Liberation Serif, serif" >with MC</text>
<text x="17.8" y="46.5" font-size="29.30" text-anchor="start" fill="#1a1a1a" font-family="Liberation Serif, serif" >(a)</text>
<text x="106.0" y="48.0" font-size="29.30" text-anchor="end" fill="#1a1a1a" font-family="Liberation Serif, serif" >5</text>
<text x="106.0" y="177.5" font-size="29.30" text-anchor="end" fill="#1a1a1a" font-family="Liberation Serif, serif" >0</text>
<text x="106.0" y="306.5" font-size="29.30" text-anchor="end" fill="#1a1a1a" font-family="Liberation Serif, serif" >-5</text>
<text x="106.0" y="435.1" font-size="29.30" text-anchor="end" fill="#1a1a1a" font-family="Liberation Serif, serif" >-10</text>
<text x="115.5" y="460.5" font-size="29.30" text-anchor="middle" fill="#1a1a1a" font-family="Liberation Serif, serif" >6</text>
<text x="282.6" y="460.5" font-size="29.30" text-anchor="middle" fill="#1a1a1a" font-family="Liberation Serif, serif" >4</text>
<text x="449.0" y="460.5" font-size="29.30" text-anchor="middle" fill="#1a1a1a" font-family="Liberation Serif, serif" >2</text>
<text x="614.5" y="460.5" font-size="29.30" text-anchor="middle" fill="#1a1a1a" font-family="Liberation Serif, serif" >0</text>
<text x="365.0" y="495.5" font-size="31.80" text-anchor="middle" fill="#1a1a1a" font-family="Liberation Serif, serif" >Frequency offset (ppm)</text>
<text transform="translate(44 317.5) rotate(-90)" font-size="31.8" fill="#1a1a1a" font-family="Liberation Serif, serif">MTR<tspan font-size="25.6" dy="13">asym</tspan><tspan dy="-12" dx="4" font-size="30.5">(%)</tspan></text>
<g stroke="#000" opacity="0.115" stroke-width="3" fill="none"><path d="M725.0 231.9H1220.0"/><path d="M848.9 38.5V82 M848.9 181.4V305.5 M848.9 411V425"/><path d="M972.6 38.5V425"/><path d="M1096.5 38.5V425"/></g>
<g clip-path="url(#clipB)"><clipPath id="cpB"><path d="M725.0 102.9C726.1 106.4 729.4 115.9 731.9 123.7C734.4 131.5 736.9 142.8 739.9 149.8C742.9 156.9 746.5 162.8 749.8 166.0C753.1 169.2 756.8 168.6 759.8 168.9C762.8 169.2 765.1 167.2 767.7 168.0C770.4 168.8 772.7 171.3 775.7 173.6C778.7 175.9 782.3 180.1 785.6 181.8C788.9 183.5 792.5 183.5 795.5 183.8C798.5 184.1 801.2 183.0 803.5 183.8C805.8 184.6 806.9 185.2 809.5 188.8C812.1 192.5 816.1 199.9 819.4 205.7C822.7 211.5 826.0 218.3 829.3 223.6C832.6 228.9 836.0 234.1 839.3 237.7C842.6 241.3 845.9 243.4 849.2 245.0C852.5 246.6 855.9 246.2 859.2 247.0C862.5 247.8 865.8 247.8 869.1 249.8C872.4 251.8 875.7 254.5 879.0 258.8C882.3 263.1 885.7 269.9 889.0 275.7C892.3 281.5 895.6 288.6 898.9 293.6C902.2 298.6 905.6 302.8 908.9 305.7C912.2 308.6 915.5 309.2 918.8 311.0C922.1 312.8 926.1 314.8 928.7 316.4C931.3 318.0 932.2 318.6 934.5 320.8C936.8 323.0 940.1 326.3 942.4 329.8C944.7 333.3 946.4 337.4 948.4 341.7C950.4 346.0 952.3 351.0 954.3 355.6C956.3 360.2 958.6 365.9 960.3 369.5C962.0 373.1 963.0 375.4 964.3 377.5C965.6 379.6 967.0 381.3 968.3 382.4C969.6 383.4 970.9 383.9 972.2 383.8C973.5 383.7 974.5 383.2 976.2 381.5C977.9 379.8 980.5 377.1 982.2 373.5C983.9 369.9 984.9 365.2 986.2 359.6C987.5 354.0 988.8 346.3 990.1 339.7C991.4 333.1 992.6 328.1 994.1 319.8C995.6 311.5 997.1 299.6 998.9 289.6C1000.7 279.6 1002.8 267.8 1004.8 259.8C1006.8 251.9 1008.8 246.4 1010.8 241.9C1012.8 237.4 1014.7 234.7 1016.7 232.9C1018.7 231.1 1020.7 230.7 1022.7 230.9C1024.7 231.1 1026.4 231.4 1028.7 233.9C1031.0 236.4 1033.9 242.2 1036.6 245.8C1039.2 249.5 1042.3 253.8 1044.6 255.8C1046.9 257.8 1048.5 258.3 1050.5 257.8C1052.5 257.3 1054.5 255.8 1056.5 252.8C1058.5 249.8 1060.5 244.4 1062.5 239.9C1064.5 235.4 1066.4 230.7 1068.4 226.0C1070.4 221.3 1072.1 216.0 1074.4 211.6C1076.7 207.2 1079.8 202.3 1082.4 199.7C1085.1 197.1 1087.7 196.4 1090.3 196.1C1092.9 195.8 1095.6 197.3 1098.3 197.7C1101.0 198.1 1103.5 199.7 1106.2 198.7C1108.9 197.7 1111.6 196.5 1114.2 191.7C1116.8 186.9 1119.8 176.8 1122.1 169.9C1124.4 163.0 1126.1 156.7 1128.1 150.0C1130.1 143.3 1131.7 135.7 1134.0 129.7C1136.3 123.7 1139.3 117.6 1142.0 113.8C1144.7 110.0 1147.3 108.4 1150.0 106.8C1152.7 105.2 1155.6 103.9 1157.9 103.9C1160.2 103.9 1161.2 104.5 1163.9 106.8C1166.6 109.1 1170.5 114.3 1173.8 117.8C1177.1 121.3 1180.4 123.4 1183.7 127.7C1187.0 132.0 1190.4 137.5 1193.7 143.6C1197.0 149.7 1200.6 158.3 1203.6 164.5C1206.6 170.7 1208.9 176.3 1211.6 181.0C1214.2 185.7 1218.2 190.8 1219.5 192.7L1219.5 211.6C1217.8 213.0 1212.2 218.8 1209.6 220.0C1206.9 221.2 1206.2 219.2 1203.6 218.6C1200.9 218.0 1197.0 216.4 1193.7 216.6C1190.4 216.8 1187.0 217.9 1183.7 219.6C1180.4 221.2 1178.8 223.1 1173.8 226.5C1168.8 229.9 1158.2 236.8 1153.9 240.0C1149.6 243.2 1150.3 243.2 1148.0 245.5C1145.7 247.8 1142.3 251.2 1140.0 253.8C1137.7 256.4 1136.7 258.7 1134.0 260.8C1131.3 262.9 1127.4 264.6 1124.1 266.7C1120.8 268.8 1117.2 271.2 1114.2 273.7C1111.2 276.2 1108.9 278.6 1106.2 281.6C1103.5 284.6 1100.3 288.6 1098.3 291.6C1096.3 294.6 1096.6 296.9 1094.3 299.5C1092.0 302.1 1088.6 304.1 1084.3 307.5C1080.0 310.9 1072.5 316.4 1068.4 320.0C1064.3 323.6 1062.8 326.4 1059.7 328.8C1056.6 331.2 1053.1 333.4 1049.8 334.7C1046.5 336.0 1043.4 335.5 1039.8 336.7C1036.2 337.9 1031.5 339.9 1027.9 341.7C1024.3 343.5 1021.0 345.0 1018.0 347.7C1015.0 350.4 1012.3 355.3 1010.0 357.6C1007.7 359.9 1006.8 359.6 1004.1 361.6C1001.5 363.6 997.4 366.2 994.1 369.5C990.8 372.8 986.9 378.6 984.2 381.5C981.5 384.4 980.0 385.8 978.0 387.0C976.0 388.2 974.2 389.1 972.2 389.0C970.2 388.9 968.3 387.8 966.3 386.5C964.3 385.2 963.3 383.9 960.3 381.5C957.3 379.1 952.7 375.5 948.4 372.0C944.1 368.5 940.1 365.2 934.5 360.5C928.9 355.8 921.2 349.9 914.6 344.0C908.0 338.1 900.6 330.7 894.7 325.0C888.8 319.3 883.3 314.2 879.0 310.0C874.7 305.8 872.4 303.2 869.1 300.0C865.8 296.8 862.5 294.0 859.2 291.0C855.9 288.0 852.5 284.9 849.2 282.0C845.9 279.1 842.6 276.2 839.3 273.7C836.0 271.2 832.6 268.8 829.3 267.0C826.0 265.2 824.4 265.0 819.4 263.0C814.4 261.0 806.1 258.7 799.5 255.0C792.9 251.3 784.6 244.7 779.6 241.0C774.6 237.3 773.0 235.8 769.7 233.0C766.4 230.2 763.1 227.2 759.8 224.0C756.5 220.8 753.1 217.3 749.8 214.0C746.5 210.7 742.9 207.2 739.9 204.0C736.9 200.8 734.4 198.0 731.9 195.0C729.4 192.0 726.1 187.5 725.0 186.0Z"/></clipPath><clipPath id="cuB"><path d="M725.0 102.9C726.1 106.4 729.4 115.9 731.9 123.7C734.4 131.5 736.9 142.8 739.9 149.8C742.9 156.9 746.5 162.8 749.8 166.0C753.1 169.2 756.8 168.6 759.8 168.9C762.8 169.2 765.1 167.2 767.7 168.0C770.4 168.8 772.7 171.3 775.7 173.6C778.7 175.9 782.3 180.1 785.6 181.8C788.9 183.5 792.5 183.5 795.5 183.8C798.5 184.1 801.2 183.0 803.5 183.8C805.8 184.6 806.9 185.2 809.5 188.8C812.1 192.5 816.1 199.9 819.4 205.7C822.7 211.5 826.0 218.3 829.3 223.6C832.6 228.9 836.0 234.1 839.3 237.7C842.6 241.3 845.9 243.4 849.2 245.0C852.5 246.6 855.9 246.2 859.2 247.0C862.5 247.8 865.8 247.8 869.1 249.8C872.4 251.8 875.7 254.5 879.0 258.8C882.3 263.1 885.7 269.9 889.0 275.7C892.3 281.5 895.6 288.6 898.9 293.6C902.2 298.6 905.6 302.8 908.9 305.7C912.2 308.6 915.5 309.2 918.8 311.0C922.1 312.8 926.1 314.8 928.7 316.4C931.3 318.0 932.2 318.6 934.5 320.8C936.8 323.0 940.1 326.3 942.4 329.8C944.7 333.3 946.4 337.4 948.4 341.7C950.4 346.0 952.3 351.0 954.3 355.6C956.3 360.2 958.6 365.9 960.3 369.5C962.0 373.1 963.0 375.4 964.3 377.5C965.6 379.6 967.0 381.3 968.3 382.4C969.6 383.4 970.9 383.9 972.2 383.8C973.5 383.7 974.5 383.2 976.2 381.5C977.9 379.8 980.5 377.1 982.2 373.5C983.9 369.9 984.9 365.2 986.2 359.6C987.5 354.0 988.8 346.3 990.1 339.7C991.4 333.1 992.6 328.1 994.1 319.8C995.6 311.5 997.1 299.6 998.9 289.6C1000.7 279.6 1002.8 267.8 1004.8 259.8C1006.8 251.9 1008.8 246.4 1010.8 241.9C1012.8 237.4 1014.7 234.7 1016.7 232.9C1018.7 231.1 1020.7 230.7 1022.7 230.9C1024.7 231.1 1026.4 231.4 1028.7 233.9C1031.0 236.4 1033.9 242.2 1036.6 245.8C1039.2 249.5 1042.3 253.8 1044.6 255.8C1046.9 257.8 1048.5 258.3 1050.5 257.8C1052.5 257.3 1054.5 255.8 1056.5 252.8C1058.5 249.8 1060.5 244.4 1062.5 239.9C1064.5 235.4 1066.4 230.7 1068.4 226.0C1070.4 221.3 1072.1 216.0 1074.4 211.6C1076.7 207.2 1079.8 202.3 1082.4 199.7C1085.1 197.1 1087.7 196.4 1090.3 196.1C1092.9 195.8 1095.6 197.3 1098.3 197.7C1101.0 198.1 1103.5 199.7 1106.2 198.7C1108.9 197.7 1111.6 196.5 1114.2 191.7C1116.8 186.9 1119.8 176.8 1122.1 169.9C1124.4 163.0 1126.1 156.7 1128.1 150.0C1130.1 143.3 1131.7 135.7 1134.0 129.7C1136.3 123.7 1139.3 117.6 1142.0 113.8C1144.7 110.0 1147.3 108.4 1150.0 106.8C1152.7 105.2 1155.6 103.9 1157.9 103.9C1160.2 103.9 1161.2 104.5 1163.9 106.8C1166.6 109.1 1170.5 114.3 1173.8 117.8C1177.1 121.3 1180.4 123.4 1183.7 127.7C1187.0 132.0 1190.4 137.5 1193.7 143.6C1197.0 149.7 1200.6 158.3 1203.6 164.5C1206.6 170.7 1208.9 176.3 1211.6 181.0C1214.2 185.7 1218.2 190.8 1219.5 192.7L1219.5 211.6C1217.8 213.0 1212.2 218.8 1209.6 220.0C1206.9 221.2 1206.2 219.2 1203.6 218.6C1200.9 218.0 1197.0 216.4 1193.7 216.6C1190.4 216.8 1187.0 217.9 1183.7 219.6C1180.4 221.2 1178.8 223.1 1173.8 226.5C1168.8 229.9 1158.2 236.8 1153.9 240.0C1149.6 243.2 1150.3 243.2 1148.0 245.5C1145.7 247.8 1142.3 251.2 1140.0 253.8C1137.7 256.4 1136.7 258.7 1134.0 260.8C1131.3 262.9 1127.4 264.6 1124.1 266.7C1120.8 268.8 1117.2 271.2 1114.2 273.7C1111.2 276.2 1108.9 278.6 1106.2 281.6C1103.5 284.6 1100.3 288.6 1098.3 291.6C1096.3 294.6 1096.6 296.9 1094.3 299.5C1092.0 302.1 1088.6 304.1 1084.3 307.5C1080.0 310.9 1072.5 316.4 1068.4 320.0C1064.3 323.6 1062.8 326.4 1059.7 328.8C1056.6 331.2 1053.1 333.4 1049.8 334.7C1046.5 336.0 1043.4 335.5 1039.8 336.7C1036.2 337.9 1031.5 339.9 1027.9 341.7C1024.3 343.5 1021.0 345.0 1018.0 347.7C1015.0 350.4 1012.3 355.3 1010.0 357.6C1007.7 359.9 1006.8 359.6 1004.1 361.6C1001.5 363.6 997.4 366.2 994.1 369.5C990.8 372.8 986.9 378.6 984.2 381.5C981.5 384.4 980.0 385.8 978.0 387.0C976.0 388.2 974.2 389.1 972.2 389.0C970.2 388.9 968.3 387.8 966.3 386.5C964.3 385.2 963.3 383.9 960.3 381.5C957.3 379.1 952.7 375.5 948.4 372.0C944.1 368.5 940.1 365.2 934.5 360.5C928.9 355.8 921.2 349.9 914.6 344.0C908.0 338.1 900.6 330.7 894.7 325.0C888.8 319.3 883.3 314.2 879.0 310.0C874.7 305.8 872.4 303.2 869.1 300.0C865.8 296.8 862.5 294.0 859.2 291.0C855.9 288.0 852.5 284.9 849.2 282.0C845.9 279.1 842.6 276.2 839.3 273.7C836.0 271.2 832.6 268.8 829.3 267.0C826.0 265.2 824.4 265.0 819.4 263.0C814.4 261.0 806.1 258.7 799.5 255.0C792.9 251.3 784.6 244.7 779.6 241.0C774.6 237.3 773.0 235.8 769.7 233.0C766.4 230.2 763.1 227.2 759.8 224.0C756.5 220.8 753.1 217.3 749.8 214.0C746.5 210.7 742.9 207.2 739.9 204.0C736.9 200.8 734.4 198.0 731.9 195.0C729.4 192.0 726.1 187.5 725.0 186.0Z"/><path d="M725.0 174.7C726.1 176.0 729.4 179.8 731.9 182.8C734.4 185.8 736.9 189.2 739.9 192.7C742.9 196.2 746.5 200.2 749.8 203.7C753.1 207.2 756.5 210.4 759.8 213.6C763.1 216.8 766.4 219.6 769.7 222.6C773.0 225.6 776.3 229.0 779.6 231.5C782.9 234.0 786.3 235.8 789.6 237.5C792.9 239.2 796.2 240.3 799.5 241.7C802.8 243.1 806.2 244.5 809.5 246.0C812.8 247.5 816.1 249.2 819.4 250.8C822.7 252.4 826.0 254.1 829.3 255.8C832.6 257.5 836.0 258.8 839.3 260.8C842.6 262.8 845.9 265.1 849.2 267.7C852.5 270.3 855.9 273.7 859.2 276.7C862.5 279.7 865.8 282.6 869.1 285.6C872.4 288.6 875.7 291.5 879.0 294.6C882.3 297.8 885.7 301.2 889.0 304.5C892.3 307.8 894.6 310.7 898.9 314.4C903.2 318.1 908.7 321.4 914.6 326.8C920.5 332.2 928.9 340.6 934.5 346.7C940.1 352.8 944.4 359.0 948.4 363.6C952.4 368.2 955.6 372.2 958.3 374.5C960.9 376.8 962.0 376.8 964.3 377.5C966.6 378.2 969.2 378.7 972.2 378.5C975.2 378.3 978.6 379.0 982.2 376.5C985.9 374.0 990.5 367.8 994.1 363.6C997.8 359.5 1000.8 355.2 1004.1 351.6C1007.4 348.0 1010.7 345.0 1014.0 341.7C1017.3 338.4 1020.6 334.8 1023.9 331.7C1027.2 328.6 1030.6 325.8 1033.9 322.8C1037.2 319.8 1040.4 317.1 1043.8 313.9C1047.2 310.7 1049.4 308.2 1054.5 303.5C1059.6 298.8 1067.8 290.9 1074.4 285.6C1081.0 280.3 1087.7 276.2 1094.3 271.7C1100.9 267.2 1107.6 262.8 1114.2 258.8C1120.8 254.8 1128.4 251.6 1134.0 247.8C1139.6 244.0 1143.7 240.5 1148.0 235.9C1152.3 231.3 1157.2 223.7 1159.9 220.0C1162.6 216.3 1161.6 216.5 1163.9 213.6C1166.2 210.7 1170.5 205.3 1173.8 202.7C1177.1 200.0 1180.4 198.7 1183.7 197.7C1187.0 196.7 1190.4 196.9 1193.7 196.7C1197.0 196.5 1200.3 197.2 1203.6 196.7C1206.9 196.2 1210.9 194.8 1213.6 193.7C1216.2 192.5 1218.5 190.5 1219.5 189.8L1219.5 211.6C1218.5 212.6 1216.2 215.8 1213.6 217.6C1210.9 219.4 1206.9 220.6 1203.6 222.6C1200.3 224.6 1197.0 226.7 1193.7 229.5C1190.4 232.3 1187.0 236.6 1183.7 239.5C1180.4 242.4 1177.1 244.4 1173.8 247.0C1170.5 249.6 1167.9 251.9 1163.9 254.8C1159.9 257.8 1154.3 261.7 1150.0 264.7C1145.7 267.7 1142.3 270.4 1138.0 272.7C1133.7 275.0 1128.1 276.5 1124.1 278.6C1120.1 280.8 1117.5 282.8 1114.2 285.6C1110.9 288.4 1107.5 292.2 1104.2 295.5C1100.9 298.8 1099.3 301.4 1094.3 305.5C1089.3 309.6 1079.5 316.1 1074.4 320.0C1069.3 323.9 1067.2 326.2 1063.7 328.8C1060.2 331.4 1057.0 332.9 1053.7 335.7C1050.4 338.5 1047.1 342.4 1043.8 345.7C1040.5 349.0 1037.2 352.6 1033.9 355.6C1030.6 358.6 1027.2 361.3 1023.9 363.6C1020.6 365.9 1017.3 368.0 1014.0 369.5C1010.7 371.0 1007.8 371.2 1004.1 372.5C1000.5 373.8 995.8 375.7 992.1 377.5C988.5 379.3 985.5 381.6 982.2 383.4C978.9 385.2 974.9 387.9 972.2 388.4C969.6 388.9 968.3 387.4 966.3 386.4C964.3 385.4 963.3 384.5 960.3 382.4C957.3 380.2 952.7 376.8 948.4 373.5C944.1 370.2 940.1 367.1 934.5 362.6C928.9 358.1 921.2 352.5 914.6 346.7C908.0 340.9 900.6 333.4 894.7 327.8C888.8 322.2 883.3 317.4 879.0 313.4C874.7 309.3 872.4 306.8 869.1 303.5C865.8 300.2 862.5 296.8 859.2 293.6C855.9 290.5 852.5 287.2 849.2 284.6C845.9 282.0 842.6 279.9 839.3 277.7C836.0 275.5 832.6 273.4 829.3 271.7C826.0 270.0 822.7 268.9 819.4 267.7C816.1 266.5 812.8 266.0 809.5 264.7C806.2 263.4 802.8 261.8 799.5 259.8C796.2 257.8 792.9 254.9 789.6 252.5C786.3 250.1 782.9 247.9 779.6 245.4C776.3 242.9 773.0 240.3 769.7 237.5C766.4 234.7 763.1 231.5 759.8 228.5C756.5 225.5 753.1 222.4 749.8 219.6C746.5 216.8 742.9 214.2 739.9 211.6C736.9 208.9 734.4 206.2 731.9 203.7C729.4 201.2 726.1 197.9 725.0 196.7Z"/></clipPath><path d="M725.0 102.9C726.1 106.4 729.4 115.9 731.9 123.7C734.4 131.5 736.9 142.8 739.9 149.8C742.9 156.9 746.5 162.8 749.8 166.0C753.1 169.2 756.8 168.6 759.8 168.9C762.8 169.2 765.1 167.2 767.7 168.0C770.4 168.8 772.7 171.3 775.7 173.6C778.7 175.9 782.3 180.1 785.6 181.8C788.9 183.5 792.5 183.5 795.5 183.8C798.5 184.1 801.2 183.0 803.5 183.8C805.8 184.6 806.9 185.2 809.5 188.8C812.1 192.5 816.1 199.9 819.4 205.7C822.7 211.5 826.0 218.3 829.3 223.6C832.6 228.9 836.0 234.1 839.3 237.7C842.6 241.3 845.9 243.4 849.2 245.0C852.5 246.6 855.9 246.2 859.2 247.0C862.5 247.8 865.8 247.8 869.1 249.8C872.4 251.8 875.7 254.5 879.0 258.8C882.3 263.1 885.7 269.9 889.0 275.7C892.3 281.5 895.6 288.6 898.9 293.6C902.2 298.6 905.6 302.8 908.9 305.7C912.2 308.6 915.5 309.2 918.8 311.0C922.1 312.8 926.1 314.8 928.7 316.4C931.3 318.0 932.2 318.6 934.5 320.8C936.8 323.0 940.1 326.3 942.4 329.8C944.7 333.3 946.4 337.4 948.4 341.7C950.4 346.0 952.3 351.0 954.3 355.6C956.3 360.2 958.6 365.9 960.3 369.5C962.0 373.1 963.0 375.4 964.3 377.5C965.6 379.6 967.0 381.3 968.3 382.4C969.6 383.4 970.9 383.9 972.2 383.8C973.5 383.7 974.5 383.2 976.2 381.5C977.9 379.8 980.5 377.1 982.2 373.5C983.9 369.9 984.9 365.2 986.2 359.6C987.5 354.0 988.8 346.3 990.1 339.7C991.4 333.1 992.6 328.1 994.1 319.8C995.6 311.5 997.1 299.6 998.9 289.6C1000.7 279.6 1002.8 267.8 1004.8 259.8C1006.8 251.9 1008.8 246.4 1010.8 241.9C1012.8 237.4 1014.7 234.7 1016.7 232.9C1018.7 231.1 1020.7 230.7 1022.7 230.9C1024.7 231.1 1026.4 231.4 1028.7 233.9C1031.0 236.4 1033.9 242.2 1036.6 245.8C1039.2 249.5 1042.3 253.8 1044.6 255.8C1046.9 257.8 1048.5 258.3 1050.5 257.8C1052.5 257.3 1054.5 255.8 1056.5 252.8C1058.5 249.8 1060.5 244.4 1062.5 239.9C1064.5 235.4 1066.4 230.7 1068.4 226.0C1070.4 221.3 1072.1 216.0 1074.4 211.6C1076.7 207.2 1079.8 202.3 1082.4 199.7C1085.1 197.1 1087.7 196.4 1090.3 196.1C1092.9 195.8 1095.6 197.3 1098.3 197.7C1101.0 198.1 1103.5 199.7 1106.2 198.7C1108.9 197.7 1111.6 196.5 1114.2 191.7C1116.8 186.9 1119.8 176.8 1122.1 169.9C1124.4 163.0 1126.1 156.7 1128.1 150.0C1130.1 143.3 1131.7 135.7 1134.0 129.7C1136.3 123.7 1139.3 117.6 1142.0 113.8C1144.7 110.0 1147.3 108.4 1150.0 106.8C1152.7 105.2 1155.6 103.9 1157.9 103.9C1160.2 103.9 1161.2 104.5 1163.9 106.8C1166.6 109.1 1170.5 114.3 1173.8 117.8C1177.1 121.3 1180.4 123.4 1183.7 127.7C1187.0 132.0 1190.4 137.5 1193.7 143.6C1197.0 149.7 1200.6 158.3 1203.6 164.5C1206.6 170.7 1208.9 176.3 1211.6 181.0C1214.2 185.7 1218.2 190.8 1219.5 192.7L1219.5 211.6C1217.8 213.0 1212.2 218.8 1209.6 220.0C1206.9 221.2 1206.2 219.2 1203.6 218.6C1200.9 218.0 1197.0 216.4 1193.7 216.6C1190.4 216.8 1187.0 217.9 1183.7 219.6C1180.4 221.2 1178.8 223.1 1173.8 226.5C1168.8 229.9 1158.2 236.8 1153.9 240.0C1149.6 243.2 1150.3 243.2 1148.0 245.5C1145.7 247.8 1142.3 251.2 1140.0 253.8C1137.7 256.4 1136.7 258.7 1134.0 260.8C1131.3 262.9 1127.4 264.6 1124.1 266.7C1120.8 268.8 1117.2 271.2 1114.2 273.7C1111.2 276.2 1108.9 278.6 1106.2 281.6C1103.5 284.6 1100.3 288.6 1098.3 291.6C1096.3 294.6 1096.6 296.9 1094.3 299.5C1092.0 302.1 1088.6 304.1 1084.3 307.5C1080.0 310.9 1072.5 316.4 1068.4 320.0C1064.3 323.6 1062.8 326.4 1059.7 328.8C1056.6 331.2 1053.1 333.4 1049.8 334.7C1046.5 336.0 1043.4 335.5 1039.8 336.7C1036.2 337.9 1031.5 339.9 1027.9 341.7C1024.3 343.5 1021.0 345.0 1018.0 347.7C1015.0 350.4 1012.3 355.3 1010.0 357.6C1007.7 359.9 1006.8 359.6 1004.1 361.6C1001.5 363.6 997.4 366.2 994.1 369.5C990.8 372.8 986.9 378.6 984.2 381.5C981.5 384.4 980.0 385.8 978.0 387.0C976.0 388.2 974.2 389.1 972.2 389.0C970.2 388.9 968.3 387.8 966.3 386.5C964.3 385.2 963.3 383.9 960.3 381.5C957.3 379.1 952.7 375.5 948.4 372.0C944.1 368.5 940.1 365.2 934.5 360.5C928.9 355.8 921.2 349.9 914.6 344.0C908.0 338.1 900.6 330.7 894.7 325.0C888.8 319.3 883.3 314.2 879.0 310.0C874.7 305.8 872.4 303.2 869.1 300.0C865.8 296.8 862.5 294.0 859.2 291.0C855.9 288.0 852.5 284.9 849.2 282.0C845.9 279.1 842.6 276.2 839.3 273.7C836.0 271.2 832.6 268.8 829.3 267.0C826.0 265.2 824.4 265.0 819.4 263.0C814.4 261.0 806.1 258.7 799.5 255.0C792.9 251.3 784.6 244.7 779.6 241.0C774.6 237.3 773.0 235.8 769.7 233.0C766.4 230.2 763.1 227.2 759.8 224.0C756.5 220.8 753.1 217.3 749.8 214.0C746.5 210.7 742.9 207.2 739.9 204.0C736.9 200.8 734.4 198.0 731.9 195.0C729.4 192.0 726.1 187.5 725.0 186.0Z" fill="#FCDFE0" stroke="#F7C2C6" stroke-width="0.7"/><path d="M725.0 174.7C726.1 176.0 729.4 179.8 731.9 182.8C734.4 185.8 736.9 189.2 739.9 192.7C742.9 196.2 746.5 200.2 749.8 203.7C753.1 207.2 756.5 210.4 759.8 213.6C763.1 216.8 766.4 219.6 769.7 222.6C773.0 225.6 776.3 229.0 779.6 231.5C782.9 234.0 786.3 235.8 789.6 237.5C792.9 239.2 796.2 240.3 799.5 241.7C802.8 243.1 806.2 244.5 809.5 246.0C812.8 247.5 816.1 249.2 819.4 250.8C822.7 252.4 826.0 254.1 829.3 255.8C832.6 257.5 836.0 258.8 839.3 260.8C842.6 262.8 845.9 265.1 849.2 267.7C852.5 270.3 855.9 273.7 859.2 276.7C862.5 279.7 865.8 282.6 869.1 285.6C872.4 288.6 875.7 291.5 879.0 294.6C882.3 297.8 885.7 301.2 889.0 304.5C892.3 307.8 894.6 310.7 898.9 314.4C903.2 318.1 908.7 321.4 914.6 326.8C920.5 332.2 928.9 340.6 934.5 346.7C940.1 352.8 944.4 359.0 948.4 363.6C952.4 368.2 955.6 372.2 958.3 374.5C960.9 376.8 962.0 376.8 964.3 377.5C966.6 378.2 969.2 378.7 972.2 378.5C975.2 378.3 978.6 379.0 982.2 376.5C985.9 374.0 990.5 367.8 994.1 363.6C997.8 359.5 1000.8 355.2 1004.1 351.6C1007.4 348.0 1010.7 345.0 1014.0 341.7C1017.3 338.4 1020.6 334.8 1023.9 331.7C1027.2 328.6 1030.6 325.8 1033.9 322.8C1037.2 319.8 1040.4 317.1 1043.8 313.9C1047.2 310.7 1049.4 308.2 1054.5 303.5C1059.6 298.8 1067.8 290.9 1074.4 285.6C1081.0 280.3 1087.7 276.2 1094.3 271.7C1100.9 267.2 1107.6 262.8 1114.2 258.8C1120.8 254.8 1128.4 251.6 1134.0 247.8C1139.6 244.0 1143.7 240.5 1148.0 235.9C1152.3 231.3 1157.2 223.7 1159.9 220.0C1162.6 216.3 1161.6 216.5 1163.9 213.6C1166.2 210.7 1170.5 205.3 1173.8 202.7C1177.1 200.0 1180.4 198.7 1183.7 197.7C1187.0 196.7 1190.4 196.9 1193.7 196.7C1197.0 196.5 1200.3 197.2 1203.6 196.7C1206.9 196.2 1210.9 194.8 1213.6 193.7C1216.2 192.5 1218.5 190.5 1219.5 189.8L1219.5 211.6C1218.5 212.6 1216.2 215.8 1213.6 217.6C1210.9 219.4 1206.9 220.6 1203.6 222.6C1200.3 224.6 1197.0 226.7 1193.7 229.5C1190.4 232.3 1187.0 236.6 1183.7 239.5C1180.4 242.4 1177.1 244.4 1173.8 247.0C1170.5 249.6 1167.9 251.9 1163.9 254.8C1159.9 257.8 1154.3 261.7 1150.0 264.7C1145.7 267.7 1142.3 270.4 1138.0 272.7C1133.7 275.0 1128.1 276.5 1124.1 278.6C1120.1 280.8 1117.5 282.8 1114.2 285.6C1110.9 288.4 1107.5 292.2 1104.2 295.5C1100.9 298.8 1099.3 301.4 1094.3 305.5C1089.3 309.6 1079.5 316.1 1074.4 320.0C1069.3 323.9 1067.2 326.2 1063.7 328.8C1060.2 331.4 1057.0 332.9 1053.7 335.7C1050.4 338.5 1047.1 342.4 1043.8 345.7C1040.5 349.0 1037.2 352.6 1033.9 355.6C1030.6 358.6 1027.2 361.3 1023.9 363.6C1020.6 365.9 1017.3 368.0 1014.0 369.5C1010.7 371.0 1007.8 371.2 1004.1 372.5C1000.5 373.8 995.8 375.7 992.1 377.5C988.5 379.3 985.5 381.6 982.2 383.4C978.9 385.2 974.9 387.9 972.2 388.4C969.6 388.9 968.3 387.4 966.3 386.4C964.3 385.4 963.3 384.5 960.3 382.4C957.3 380.2 952.7 376.8 948.4 373.5C944.1 370.2 940.1 367.1 934.5 362.6C928.9 358.1 921.2 352.5 914.6 346.7C908.0 340.9 900.6 333.4 894.7 327.8C888.8 322.2 883.3 317.4 879.0 313.4C874.7 309.3 872.4 306.8 869.1 303.5C865.8 300.2 862.5 296.8 859.2 293.6C855.9 290.5 852.5 287.2 849.2 284.6C845.9 282.0 842.6 279.9 839.3 277.7C836.0 275.5 832.6 273.4 829.3 271.7C826.0 270.0 822.7 268.9 819.4 267.7C816.1 266.5 812.8 266.0 809.5 264.7C806.2 263.4 802.8 261.8 799.5 259.8C796.2 257.8 792.9 254.9 789.6 252.5C786.3 250.1 782.9 247.9 779.6 245.4C776.3 242.9 773.0 240.3 769.7 237.5C766.4 234.7 763.1 231.5 759.8 228.5C756.5 225.5 753.1 222.4 749.8 219.6C746.5 216.8 742.9 214.2 739.9 211.6C736.9 208.9 734.4 206.2 731.9 203.7C729.4 201.2 726.1 197.9 725.0 196.7Z" fill="#E0E0FA"/><path d="M725.0 174.7C726.1 176.0 729.4 179.8 731.9 182.8C734.4 185.8 736.9 189.2 739.9 192.7C742.9 196.2 746.5 200.2 749.8 203.7C753.1 207.2 756.5 210.4 759.8 213.6C763.1 216.8 766.4 219.6 769.7 222.6C773.0 225.6 776.3 229.0 779.6 231.5C782.9 234.0 786.3 235.8 789.6 237.5C792.9 239.2 796.2 240.3 799.5 241.7C802.8 243.1 806.2 244.5 809.5 246.0C812.8 247.5 816.1 249.2 819.4 250.8C822.7 252.4 826.0 254.1 829.3 255.8C832.6 257.5 836.0 258.8 839.3 260.8C842.6 262.8 845.9 265.1 849.2 267.7C852.5 270.3 855.9 273.7 859.2 276.7C862.5 279.7 865.8 282.6 869.1 285.6C872.4 288.6 875.7 291.5 879.0 294.6C882.3 297.8 885.7 301.2 889.0 304.5C892.3 307.8 894.6 310.7 898.9 314.4C903.2 318.1 908.7 321.4 914.6 326.8C920.5 332.2 928.9 340.6 934.5 346.7C940.1 352.8 944.4 359.0 948.4 363.6C952.4 368.2 955.6 372.2 958.3 374.5C960.9 376.8 962.0 376.8 964.3 377.5C966.6 378.2 969.2 378.7 972.2 378.5C975.2 378.3 978.6 379.0 982.2 376.5C985.9 374.0 990.5 367.8 994.1 363.6C997.8 359.5 1000.8 355.2 1004.1 351.6C1007.4 348.0 1010.7 345.0 1014.0 341.7C1017.3 338.4 1020.6 334.8 1023.9 331.7C1027.2 328.6 1030.6 325.8 1033.9 322.8C1037.2 319.8 1040.4 317.1 1043.8 313.9C1047.2 310.7 1049.4 308.2 1054.5 303.5C1059.6 298.8 1067.8 290.9 1074.4 285.6C1081.0 280.3 1087.7 276.2 1094.3 271.7C1100.9 267.2 1107.6 262.8 1114.2 258.8C1120.8 254.8 1128.4 251.6 1134.0 247.8C1139.6 244.0 1143.7 240.5 1148.0 235.9C1152.3 231.3 1157.2 223.7 1159.9 220.0C1162.6 216.3 1161.6 216.5 1163.9 213.6C1166.2 210.7 1170.5 205.3 1173.8 202.7C1177.1 200.0 1180.4 198.7 1183.7 197.7C1187.0 196.7 1190.4 196.9 1193.7 196.7C1197.0 196.5 1200.3 197.2 1203.6 196.7C1206.9 196.2 1210.9 194.8 1213.6 193.7C1216.2 192.5 1218.5 190.5 1219.5 189.8L1219.5 211.6C1218.5 212.6 1216.2 215.8 1213.6 217.6C1210.9 219.4 1206.9 220.6 1203.6 222.6C1200.3 224.6 1197.0 226.7 1193.7 229.5C1190.4 232.3 1187.0 236.6 1183.7 239.5C1180.4 242.4 1177.1 244.4 1173.8 247.0C1170.5 249.6 1167.9 251.9 1163.9 254.8C1159.9 257.8 1154.3 261.7 1150.0 264.7C1145.7 267.7 1142.3 270.4 1138.0 272.7C1133.7 275.0 1128.1 276.5 1124.1 278.6C1120.1 280.8 1117.5 282.8 1114.2 285.6C1110.9 288.4 1107.5 292.2 1104.2 295.5C1100.9 298.8 1099.3 301.4 1094.3 305.5C1089.3 309.6 1079.5 316.1 1074.4 320.0C1069.3 323.9 1067.2 326.2 1063.7 328.8C1060.2 331.4 1057.0 332.9 1053.7 335.7C1050.4 338.5 1047.1 342.4 1043.8 345.7C1040.5 349.0 1037.2 352.6 1033.9 355.6C1030.6 358.6 1027.2 361.3 1023.9 363.6C1020.6 365.9 1017.3 368.0 1014.0 369.5C1010.7 371.0 1007.8 371.2 1004.1 372.5C1000.5 373.8 995.8 375.7 992.1 377.5C988.5 379.3 985.5 381.6 982.2 383.4C978.9 385.2 974.9 387.9 972.2 388.4C969.6 388.9 968.3 387.4 966.3 386.4C964.3 385.4 963.3 384.5 960.3 382.4C957.3 380.2 952.7 376.8 948.4 373.5C944.1 370.2 940.1 367.1 934.5 362.6C928.9 358.1 921.2 352.5 914.6 346.7C908.0 340.9 900.6 333.4 894.7 327.8C888.8 322.2 883.3 317.4 879.0 313.4C874.7 309.3 872.4 306.8 869.1 303.5C865.8 300.2 862.5 296.8 859.2 293.6C855.9 290.5 852.5 287.2 849.2 284.6C845.9 282.0 842.6 279.9 839.3 277.7C836.0 275.5 832.6 273.4 829.3 271.7C826.0 270.0 822.7 268.9 819.4 267.7C816.1 266.5 812.8 266.0 809.5 264.7C806.2 263.4 802.8 261.8 799.5 259.8C796.2 257.8 792.9 254.9 789.6 252.5C786.3 250.1 782.9 247.9 779.6 245.4C776.3 242.9 773.0 240.3 769.7 237.5C766.4 234.7 763.1 231.5 759.8 228.5C756.5 225.5 753.1 222.4 749.8 219.6C746.5 216.8 742.9 214.2 739.9 211.6C736.9 208.9 734.4 206.2 731.9 203.7C729.4 201.2 726.1 197.9 725.0 196.7Z" fill="#DDD0EA" clip-path="url(#cpB)"/><path d="M725.0 102.9C726.1 106.4 729.4 115.9 731.9 123.7C734.4 131.5 736.9 142.8 739.9 149.8C742.9 156.9 746.5 162.8 749.8 166.0C753.1 169.2 756.8 168.6 759.8 168.9C762.8 169.2 765.1 167.2 767.7 168.0C770.4 168.8 772.7 171.3 775.7 173.6C778.7 175.9 782.3 180.1 785.6 181.8C788.9 183.5 792.5 183.5 795.5 183.8C798.5 184.1 801.2 183.0 803.5 183.8C805.8 184.6 806.9 185.2 809.5 188.8C812.1 192.5 816.1 199.9 819.4 205.7C822.7 211.5 826.0 218.3 829.3 223.6C832.6 228.9 836.0 234.1 839.3 237.7C842.6 241.3 845.9 243.4 849.2 245.0C852.5 246.6 855.9 246.2 859.2 247.0C862.5 247.8 865.8 247.8 869.1 249.8C872.4 251.8 875.7 254.5 879.0 258.8C882.3 263.1 885.7 269.9 889.0 275.7C892.3 281.5 895.6 288.6 898.9 293.6C902.2 298.6 905.6 302.8 908.9 305.7C912.2 308.6 915.5 309.2 918.8 311.0C922.1 312.8 926.1 314.8 928.7 316.4C931.3 318.0 932.2 318.6 934.5 320.8C936.8 323.0 940.1 326.3 942.4 329.8C944.7 333.3 946.4 337.4 948.4 341.7C950.4 346.0 952.3 351.0 954.3 355.6C956.3 360.2 958.6 365.9 960.3 369.5C962.0 373.1 963.0 375.4 964.3 377.5C965.6 379.6 967.0 381.3 968.3 382.4C969.6 383.4 970.9 383.9 972.2 383.8C973.5 383.7 974.5 383.2 976.2 381.5C977.9 379.8 980.5 377.1 982.2 373.5C983.9 369.9 984.9 365.2 986.2 359.6C987.5 354.0 988.8 346.3 990.1 339.7C991.4 333.1 992.6 328.1 994.1 319.8C995.6 311.5 997.1 299.6 998.9 289.6C1000.7 279.6 1002.8 267.8 1004.8 259.8C1006.8 251.9 1008.8 246.4 1010.8 241.9C1012.8 237.4 1014.7 234.7 1016.7 232.9C1018.7 231.1 1020.7 230.7 1022.7 230.9C1024.7 231.1 1026.4 231.4 1028.7 233.9C1031.0 236.4 1033.9 242.2 1036.6 245.8C1039.2 249.5 1042.3 253.8 1044.6 255.8C1046.9 257.8 1048.5 258.3 1050.5 257.8C1052.5 257.3 1054.5 255.8 1056.5 252.8C1058.5 249.8 1060.5 244.4 1062.5 239.9C1064.5 235.4 1066.4 230.7 1068.4 226.0C1070.4 221.3 1072.1 216.0 1074.4 211.6C1076.7 207.2 1079.8 202.3 1082.4 199.7C1085.1 197.1 1087.7 196.4 1090.3 196.1C1092.9 195.8 1095.6 197.3 1098.3 197.7C1101.0 198.1 1103.5 199.7 1106.2 198.7C1108.9 197.7 1111.6 196.5 1114.2 191.7C1116.8 186.9 1119.8 176.8 1122.1 169.9C1124.4 163.0 1126.1 156.7 1128.1 150.0C1130.1 143.3 1131.7 135.7 1134.0 129.7C1136.3 123.7 1139.3 117.6 1142.0 113.8C1144.7 110.0 1147.3 108.4 1150.0 106.8C1152.7 105.2 1155.6 103.9 1157.9 103.9C1160.2 103.9 1161.2 104.5 1163.9 106.8C1166.6 109.1 1170.5 114.3 1173.8 117.8C1177.1 121.3 1180.4 123.4 1183.7 127.7C1187.0 132.0 1190.4 137.5 1193.7 143.6C1197.0 149.7 1200.6 158.3 1203.6 164.5C1206.6 170.7 1208.9 176.3 1211.6 181.0C1214.2 185.7 1218.2 190.8 1219.5 192.7L1219.5 211.6C1217.8 213.0 1212.2 218.8 1209.6 220.0C1206.9 221.2 1206.2 219.2 1203.6 218.6C1200.9 218.0 1197.0 216.4 1193.7 216.6C1190.4 216.8 1187.0 217.9 1183.7 219.6C1180.4 221.2 1178.8 223.1 1173.8 226.5C1168.8 229.9 1158.2 236.8 1153.9 240.0C1149.6 243.2 1150.3 243.2 1148.0 245.5C1145.7 247.8 1142.3 251.2 1140.0 253.8C1137.7 256.4 1136.7 258.7 1134.0 260.8C1131.3 262.9 1127.4 264.6 1124.1 266.7C1120.8 268.8 1117.2 271.2 1114.2 273.7C1111.2 276.2 1108.9 278.6 1106.2 281.6C1103.5 284.6 1100.3 288.6 1098.3 291.6C1096.3 294.6 1096.6 296.9 1094.3 299.5C1092.0 302.1 1088.6 304.1 1084.3 307.5C1080.0 310.9 1072.5 316.4 1068.4 320.0C1064.3 323.6 1062.8 326.4 1059.7 328.8C1056.6 331.2 1053.1 333.4 1049.8 334.7C1046.5 336.0 1043.4 335.5 1039.8 336.7C1036.2 337.9 1031.5 339.9 1027.9 341.7C1024.3 343.5 1021.0 345.0 1018.0 347.7C1015.0 350.4 1012.3 355.3 1010.0 357.6C1007.7 359.9 1006.8 359.6 1004.1 361.6C1001.5 363.6 997.4 366.2 994.1 369.5C990.8 372.8 986.9 378.6 984.2 381.5C981.5 384.4 980.0 385.8 978.0 387.0C976.0 388.2 974.2 389.1 972.2 389.0C970.2 388.9 968.3 387.8 966.3 386.5C964.3 385.2 963.3 383.9 960.3 381.5C957.3 379.1 952.7 375.5 948.4 372.0C944.1 368.5 940.1 365.2 934.5 360.5C928.9 355.8 921.2 349.9 914.6 344.0C908.0 338.1 900.6 330.7 894.7 325.0C888.8 319.3 883.3 314.2 879.0 310.0C874.7 305.8 872.4 303.2 869.1 300.0C865.8 296.8 862.5 294.0 859.2 291.0C855.9 288.0 852.5 284.9 849.2 282.0C845.9 279.1 842.6 276.2 839.3 273.7C836.0 271.2 832.6 268.8 829.3 267.0C826.0 265.2 824.4 265.0 819.4 263.0C814.4 261.0 806.1 258.7 799.5 255.0C792.9 251.3 784.6 244.7 779.6 241.0C774.6 237.3 773.0 235.8 769.7 233.0C766.4 230.2 763.1 227.2 759.8 224.0C756.5 220.8 753.1 217.3 749.8 214.0C746.5 210.7 742.9 207.2 739.9 204.0C736.9 200.8 734.4 198.0 731.9 195.0C729.4 192.0 726.1 187.5 725.0 186.0Z" fill="none" stroke="#F3B8C0" stroke-opacity="0.5" stroke-width="0.7"/><path d="M725.0 174.7C726.1 176.0 729.4 179.8 731.9 182.8C734.4 185.8 736.9 189.2 739.9 192.7C742.9 196.2 746.5 200.2 749.8 203.7C753.1 207.2 756.5 210.4 759.8 213.6C763.1 216.8 766.4 219.6 769.7 222.6C773.0 225.6 776.3 229.0 779.6 231.5C782.9 234.0 786.3 235.8 789.6 237.5C792.9 239.2 796.2 240.3 799.5 241.7C802.8 243.1 806.2 244.5 809.5 246.0C812.8 247.5 816.1 249.2 819.4 250.8C822.7 252.4 826.0 254.1 829.3 255.8C832.6 257.5 836.0 258.8 839.3 260.8C842.6 262.8 845.9 265.1 849.2 267.7C852.5 270.3 855.9 273.7 859.2 276.7C862.5 279.7 865.8 282.6 869.1 285.6C872.4 288.6 875.7 291.5 879.0 294.6C882.3 297.8 885.7 301.2 889.0 304.5C892.3 307.8 894.6 310.7 898.9 314.4C903.2 318.1 908.7 321.4 914.6 326.8C920.5 332.2 928.9 340.6 934.5 346.7C940.1 352.8 944.4 359.0 948.4 363.6C952.4 368.2 955.6 372.2 958.3 374.5C960.9 376.8 962.0 376.8 964.3 377.5C966.6 378.2 969.2 378.7 972.2 378.5C975.2 378.3 978.6 379.0 982.2 376.5C985.9 374.0 990.5 367.8 994.1 363.6C997.8 359.5 1000.8 355.2 1004.1 351.6C1007.4 348.0 1010.7 345.0 1014.0 341.7C1017.3 338.4 1020.6 334.8 1023.9 331.7C1027.2 328.6 1030.6 325.8 1033.9 322.8C1037.2 319.8 1040.4 317.1 1043.8 313.9C1047.2 310.7 1049.4 308.2 1054.5 303.5C1059.6 298.8 1067.8 290.9 1074.4 285.6C1081.0 280.3 1087.7 276.2 1094.3 271.7C1100.9 267.2 1107.6 262.8 1114.2 258.8C1120.8 254.8 1128.4 251.6 1134.0 247.8C1139.6 244.0 1143.7 240.5 1148.0 235.9C1152.3 231.3 1157.2 223.7 1159.9 220.0C1162.6 216.3 1161.6 216.5 1163.9 213.6C1166.2 210.7 1170.5 205.3 1173.8 202.7C1177.1 200.0 1180.4 198.7 1183.7 197.7C1187.0 196.7 1190.4 196.9 1193.7 196.7C1197.0 196.5 1200.3 197.2 1203.6 196.7C1206.9 196.2 1210.9 194.8 1213.6 193.7C1216.2 192.5 1218.5 190.5 1219.5 189.8L1219.5 211.6C1218.5 212.6 1216.2 215.8 1213.6 217.6C1210.9 219.4 1206.9 220.6 1203.6 222.6C1200.3 224.6 1197.0 226.7 1193.7 229.5C1190.4 232.3 1187.0 236.6 1183.7 239.5C1180.4 242.4 1177.1 244.4 1173.8 247.0C1170.5 249.6 1167.9 251.9 1163.9 254.8C1159.9 257.8 1154.3 261.7 1150.0 264.7C1145.7 267.7 1142.3 270.4 1138.0 272.7C1133.7 275.0 1128.1 276.5 1124.1 278.6C1120.1 280.8 1117.5 282.8 1114.2 285.6C1110.9 288.4 1107.5 292.2 1104.2 295.5C1100.9 298.8 1099.3 301.4 1094.3 305.5C1089.3 309.6 1079.5 316.1 1074.4 320.0C1069.3 323.9 1067.2 326.2 1063.7 328.8C1060.2 331.4 1057.0 332.9 1053.7 335.7C1050.4 338.5 1047.1 342.4 1043.8 345.7C1040.5 349.0 1037.2 352.6 1033.9 355.6C1030.6 358.6 1027.2 361.3 1023.9 363.6C1020.6 365.9 1017.3 368.0 1014.0 369.5C1010.7 371.0 1007.8 371.2 1004.1 372.5C1000.5 373.8 995.8 375.7 992.1 377.5C988.5 379.3 985.5 381.6 982.2 383.4C978.9 385.2 974.9 387.9 972.2 388.4C969.6 388.9 968.3 387.4 966.3 386.4C964.3 385.4 963.3 384.5 960.3 382.4C957.3 380.2 952.7 376.8 948.4 373.5C944.1 370.2 940.1 367.1 934.5 362.6C928.9 358.1 921.2 352.5 914.6 346.7C908.0 340.9 900.6 333.4 894.7 327.8C888.8 322.2 883.3 317.4 879.0 313.4C874.7 309.3 872.4 306.8 869.1 303.5C865.8 300.2 862.5 296.8 859.2 293.6C855.9 290.5 852.5 287.2 849.2 284.6C845.9 282.0 842.6 279.9 839.3 277.7C836.0 275.5 832.6 273.4 829.3 271.7C826.0 270.0 822.7 268.9 819.4 267.7C816.1 266.5 812.8 266.0 809.5 264.7C806.2 263.4 802.8 261.8 799.5 259.8C796.2 257.8 792.9 254.9 789.6 252.5C786.3 250.1 782.9 247.9 779.6 245.4C776.3 242.9 773.0 240.3 769.7 237.5C766.4 234.7 763.1 231.5 759.8 228.5C756.5 225.5 753.1 222.4 749.8 219.6C746.5 216.8 742.9 214.2 739.9 211.6C736.9 208.9 734.4 206.2 731.9 203.7C729.4 201.2 726.1 197.9 725.0 196.7Z" fill="none" stroke="#BCBCF8" stroke-width="0.9"/><path d="M725.0 143.6C726.1 146.5 729.4 155.4 731.9 161.0C734.4 166.6 736.9 172.4 739.9 177.0C742.9 181.6 746.5 186.3 749.8 188.8C753.1 191.3 756.8 191.4 759.8 192.1C762.8 192.8 765.1 191.8 767.7 192.7C770.4 193.6 772.7 195.4 775.7 197.7C778.7 200.0 782.3 204.2 785.6 206.7C788.9 209.2 792.2 210.9 795.5 212.6C798.8 214.2 802.8 215.1 805.5 216.6C808.2 218.1 809.2 219.1 811.5 221.6C813.8 224.1 816.4 228.0 819.4 231.7C822.4 235.4 826.0 239.8 829.3 243.6C832.6 247.4 836.0 251.6 839.3 254.8C842.6 258.0 845.9 260.4 849.2 262.7C852.5 265.0 855.9 266.7 859.2 268.7C862.5 270.7 865.8 272.2 869.1 274.7C872.4 277.2 875.7 280.0 879.0 283.6C882.3 287.2 885.7 292.4 889.0 296.5C892.3 300.6 895.6 304.9 898.9 308.5C902.2 312.1 906.3 315.8 908.9 318.0C911.5 320.2 912.0 320.0 914.6 321.8C917.2 323.6 921.2 326.3 924.5 328.8C927.8 331.3 931.5 334.1 934.5 336.7C937.5 339.3 940.1 341.5 942.4 344.7C944.7 347.9 946.4 351.8 948.4 355.6C950.4 359.4 952.3 363.9 954.3 367.5C956.3 371.1 958.3 374.7 960.3 377.5C962.3 380.3 964.3 382.8 966.3 384.4C968.3 386.0 970.4 386.9 972.2 387.0C974.0 387.1 975.5 386.6 977.2 385.0C978.9 383.4 980.7 380.4 982.2 377.5C983.7 374.6 984.9 371.1 986.2 367.5C987.5 363.9 988.8 359.9 990.1 355.6C991.4 351.3 992.8 346.3 994.1 341.7C995.4 337.1 996.8 332.4 998.1 327.8C999.4 323.2 1000.7 317.8 1002.1 313.9C1003.5 310.0 1004.4 308.1 1006.5 304.5C1008.6 300.9 1012.1 295.4 1014.8 292.6C1017.5 289.8 1020.1 288.4 1022.7 287.6C1025.4 286.8 1028.1 286.9 1030.7 287.6C1033.3 288.3 1035.9 290.4 1038.6 291.6C1041.2 292.8 1043.9 294.6 1046.6 294.6C1049.2 294.6 1051.8 293.4 1054.5 291.6C1057.2 289.8 1059.8 286.9 1062.5 283.6C1065.2 280.3 1067.8 275.8 1070.4 271.7C1073.1 267.6 1075.8 262.6 1078.4 258.8C1081.1 255.0 1083.7 251.5 1086.3 248.8C1088.9 246.2 1091.3 244.4 1094.3 242.9C1097.3 241.4 1101.2 241.4 1104.2 240.0C1107.2 238.6 1109.9 237.1 1112.2 234.5C1114.5 231.9 1115.8 229.3 1118.1 224.5C1120.4 219.7 1123.4 211.8 1126.1 205.7C1128.8 199.6 1131.3 192.9 1134.0 187.8C1136.7 182.7 1139.3 178.2 1142.0 174.9C1144.7 171.6 1147.3 169.5 1150.0 167.9C1152.7 166.3 1154.9 165.8 1157.9 165.6C1160.9 165.4 1164.2 165.9 1167.8 167.0C1171.4 168.1 1176.1 170.0 1179.8 172.0C1183.5 174.0 1186.4 176.0 1189.7 178.8C1193.0 181.6 1196.4 185.8 1199.7 188.8C1203.0 191.8 1206.3 194.5 1209.6 196.7C1212.9 198.8 1217.8 200.9 1219.5 201.7" fill="none" stroke="#D65E69" stroke-width="2.2"/><path d="M725.0 180.8C726.1 182.1 729.4 185.8 731.9 188.8C734.4 191.8 736.9 195.2 739.9 198.7C742.9 202.2 746.5 206.3 749.8 209.6C753.1 212.9 756.5 215.6 759.8 218.6C763.1 221.6 766.4 224.7 769.7 227.5C773.0 230.3 776.3 233.1 779.6 235.5C782.9 237.9 786.3 239.8 789.6 241.7C792.9 243.5 796.2 244.9 799.5 246.6C802.8 248.3 806.2 250.1 809.5 251.8C812.8 253.5 816.1 255.3 819.4 256.8C822.7 258.3 826.0 259.5 829.3 260.8C832.6 262.1 836.0 263.1 839.3 264.7C842.6 266.3 845.9 268.2 849.2 270.7C852.5 273.2 855.9 276.6 859.2 279.6C862.5 282.6 865.8 285.6 869.1 288.6C872.4 291.6 875.7 294.5 879.0 297.5C882.3 300.5 885.7 303.3 889.0 306.5C892.3 309.7 896.3 314.1 898.9 316.8C901.5 319.5 900.3 318.2 904.6 322.6C908.9 327.0 918.5 337.4 924.5 343.2C930.5 349.0 935.8 352.9 940.4 357.6C945.0 362.3 949.1 367.9 952.4 371.5C955.7 375.1 958.0 377.6 960.3 379.5C962.6 381.4 964.3 382.2 966.3 383.0C968.3 383.8 970.2 384.4 972.2 384.4C974.2 384.4 976.2 384.0 978.2 383.0C980.2 382.0 981.6 381.2 984.2 378.5C986.9 375.8 990.8 370.1 994.1 366.5C997.4 362.9 1000.8 359.6 1004.1 356.6C1007.4 353.6 1010.7 351.2 1014.0 348.6C1017.3 346.0 1020.6 343.5 1023.9 340.7C1027.2 337.9 1030.6 334.5 1033.9 331.7C1037.2 328.9 1041.0 326.0 1043.8 323.8C1046.6 321.6 1047.0 321.3 1050.5 318.6C1054.0 315.9 1059.8 311.2 1064.5 307.5C1069.2 303.8 1073.4 300.1 1078.4 296.5C1083.4 292.9 1090.0 288.7 1094.3 285.6C1098.6 282.5 1100.9 280.5 1104.2 277.7C1107.5 274.9 1110.6 271.7 1114.2 268.7C1117.8 265.7 1122.1 262.4 1126.1 259.8C1130.1 257.2 1134.0 255.1 1138.0 252.8C1142.0 250.5 1146.0 249.1 1150.0 245.8C1154.0 242.5 1157.9 237.2 1161.9 233.0C1165.9 228.8 1170.2 223.7 1173.8 220.6C1177.4 217.5 1180.4 216.3 1183.7 214.6C1187.0 212.9 1190.4 211.9 1193.7 210.6C1197.0 209.3 1200.3 208.2 1203.6 206.7C1206.9 205.2 1210.9 203.2 1213.6 201.7C1216.2 200.2 1218.5 198.4 1219.5 197.7" fill="none" stroke="#5A5ACD" stroke-width="2.2"/></g>
<g clip-path="url(#cuB)"><g stroke="#000" opacity="0.075" stroke-width="3" fill="none"><path d="M725.0 231.9H1220.0"/><path d="M848.9 38.5V82 M848.9 181.4V305.5 M848.9 411V425"/><path d="M972.6 38.5V425"/><path d="M1096.5 38.5V425"/></g></g>
<g stroke="#1e1e1e" stroke-width="2.8" fill="none"><rect x="724.5" y="38.3" width="495.5" height="387.0"/><path stroke-width="2.5" d="M848.9 425.3v-6 M848.9 38.3v6 M972.6 425.3v-6 M972.6 38.3v6 M1096.5 425.3v-6 M1096.5 38.3v6 M724.5 231.9h6 M1220.0 231.9h-6"/></g>
<defs><filter id="fb11" color-interpolation-filters="sRGB" x="-5%" y="-5%" width="110%" height="110%"><feGaussianBlur stdDeviation="0.60" result="b"/><feTurbulence type="fractalNoise" baseFrequency="0.110" numOctaves="3" seed="21" result="n"/><feColorMatrix in="n" type="matrix" values="1 0 0 0 0 1 0 0 0 0 1 0 0 0 0 0 0 0 0 1" result="ng"/><feComposite in="b" in2="ng" operator="arithmetic" k1="0" k2="1" k3="1.00" k4="-0.500" result="v"/><feComponentTransfer in="v" result="c"><feFuncR type="table" tableValues="0 0 0 0 0.5 1 1 1 0.5"/><feFuncG type="table" tableValues="0 0 0.5 1 1 1 0.5 0 0"/><feFuncB type="table" tableValues="0.56 1 1 1 0.5 0 0 0 0"/></feComponentTransfer><feComposite in="c" in2="SourceAlpha" operator="in"/></filter><filter id="fb12" color-interpolation-filters="sRGB" x="-5%" y="-5%" width="110%" height="110%"><feGaussianBlur stdDeviation="0.70" result="b"/><feTurbulence type="fractalNoise" baseFrequency="0.110" numOctaves="3" seed="33" result="n"/><feColorMatrix in="n" type="matrix" values="1 0 0 0 0 1 0 0 0 0 1 0 0 0 0 0 0 0 0 1" result="ng"/><feComposite in="b" in2="ng" operator="arithmetic" k1="0" k2="1" k3="0.85" k4="-0.425" result="v"/><feComponentTransfer in="v" result="c"><feFuncR type="table" tableValues="0 0 0 0 0.5 1 1 1 0.5"/><feFuncG type="table" tableValues="0 0 0.5 1 1 1 0.5 0 0"/><feFuncB type="table" tableValues="0.56 1 1 1 0.5 0 0 0 0"/></feComponentTransfer><feComposite in="c" in2="SourceAlpha" operator="in"/></filter><filter id="fb1b" color-interpolation-filters="sRGB" x="-5%" y="-5%" width="110%" height="110%"><feGaussianBlur stdDeviation="1.00" result="b"/><feTurbulence type="fractalNoise" baseFrequency="0.100" numOctaves="2" seed="8" result="n"/><feColorMatrix in="n" type="matrix" values="1 0 0 0 0 1 0 0 0 0 1 0 0 0 0 0 0 0 0 1" result="ng"/><feComposite in="b" in2="ng" operator="arithmetic" k1="0" k2="1" k3="0.40" k4="-0.200" result="v"/><feComponentTransfer in="v" result="c"><feFuncR type="table" tableValues="0 0 0 0 0.5 1 1 1 0.5"/><feFuncG type="table" tableValues="0 0 0.5 1 1 1 0.5 0 0"/><feFuncB type="table" tableValues="0.56 1 1 1 0.5 0 0 0 0"/></feComponentTransfer><feComposite in="c" in2="SourceAlpha" operator="in"/></filter><clipPath id="cmouse"><path d="M64.2 8.7C67.3 8.9 71.0 10.6 74.5 11.8C78.0 13.0 81.6 13.9 84.9 16.0C88.2 18.1 93.0 21.6 94.2 24.2C95.4 26.8 91.9 28.9 92.1 31.5C92.3 34.1 94.3 37.3 95.2 39.7C96.1 42.1 97.0 42.5 97.3 45.9C97.6 49.3 97.9 55.0 97.0 60.0C96.1 65.0 94.8 71.3 92.0 76.0C89.2 80.7 84.3 85.7 80.0 88.0C75.7 90.3 69.8 90.1 66.0 90.0C62.2 89.9 59.7 87.4 57.0 87.3C54.3 87.2 52.7 88.8 49.8 89.3C46.9 89.8 43.5 90.4 39.4 90.4C35.3 90.4 29.5 89.7 25.0 89.3C20.5 88.9 15.9 89.3 12.6 88.3C9.3 87.3 6.8 85.5 5.3 83.1C3.8 80.7 3.3 76.9 3.3 73.8C3.3 70.7 4.1 67.8 5.3 64.5C6.5 61.2 8.4 57.5 10.5 54.2C12.6 50.9 15.6 47.8 17.7 44.9C19.8 42.0 20.3 39.2 22.9 36.6C25.5 34.0 31.0 32.0 33.2 29.4C35.4 26.8 34.2 23.5 36.3 21.1C38.4 18.7 42.3 16.6 45.6 14.9C48.9 13.2 52.8 11.8 55.9 10.8C59.0 9.8 61.1 8.5 64.2 8.7Z"/></clipPath></defs><g transform="translate(799.9 81.6)"><rect width="101.2" height="99.9" fill="#00008f"/><g clip-path="url(#cmouse)"><g filter="url(#fb11)"><rect x="-5" y="-5" width="112" height="110" fill="#8f8f8f"/><ellipse cx="50.8" cy="25.3" rx="12.5" ry="8.0" transform="rotate(-25 50.8 25.3)" fill="#0a0a0a"/><ellipse cx="45.0" cy="32.0" rx="7.0" ry="4.5" transform="rotate(0 45.0 32.0)" fill="#1a1a1a"/><ellipse cx="58.0" cy="30.0" rx="5.0" ry="6.0" transform="rotate(30 58.0 30.0)" fill="#141414"/><ellipse cx="65.2" cy="16.0" rx="3.2" ry="5.5" transform="rotate(35 65.2 16.0)" fill="#e6e6e6"/><ellipse cx="65.2" cy="16.0" rx="1.5" ry="3.0" transform="rotate(35 65.2 16.0)" fill="#b2b2b2"/><ellipse cx="63.2" cy="37.2" rx="1.9" ry="24.5" transform="rotate(39 63.2 37.2)" fill="#ffffff"/><ellipse cx="70.8" cy="32.0" rx="1.8" ry="14.0" transform="rotate(38 70.8 32.0)" fill="#666666"/><ellipse cx="34.3" cy="36.6" rx="1.8" ry="9.0" transform="rotate(35 34.3 36.6)" fill="#e6e6e6"/><ellipse cx="80.7" cy="36.6" rx="5.0" ry="6.0" transform="rotate(20 80.7 36.6)" fill="#f2f2f2"/><ellipse cx="80.7" cy="36.6" rx="2.2" ry="3.0" transform="rotate(20 80.7 36.6)" fill="#949494"/><ellipse cx="77.0" cy="13.0" rx="2.0" ry="1.2" transform="rotate(0 77.0 13.0)" fill="#e6e6e6"/><ellipse cx="93.0" cy="26.0" rx="1.2" ry="2.0" transform="rotate(0 93.0 26.0)" fill="#e6e6e6"/><ellipse cx="7.4" cy="70.7" rx="1.8" ry="8.0" transform="rotate(8 7.4 70.7)" fill="#f2f2f2"/><ellipse cx="33.2" cy="84.0" rx="6.0" ry="1.8" transform="rotate(5 33.2 84.0)" fill="#ebebeb"/><ellipse cx="49.8" cy="87.0" rx="5.0" ry="1.6" transform="rotate(-5 49.8 87.0)" fill="#e6e6e6"/><ellipse cx="20.8" cy="85.2" rx="4.0" ry="1.6" transform="rotate(10 20.8 85.2)" fill="#e0e0e0"/><ellipse cx="27.0" cy="50.0" rx="4.0" ry="2.5" transform="rotate(-20 27.0 50.0)" fill="#cccccc"/><ellipse cx="35.3" cy="40.7" rx="3.0" ry="2.0" transform="rotate(0 35.3 40.7)" fill="#cccccc"/><ellipse cx="37.4" cy="52.1" rx="2.5" ry="2.0" transform="rotate(0 37.4 52.1)" fill="#262626"/><ellipse cx="44.6" cy="57.3" rx="2.5" ry="2.2" transform="rotate(0 44.6 57.3)" fill="#1f1f1f"/><ellipse cx="29.1" cy="80.0" rx="3.0" ry="1.6" transform="rotate(0 29.1 80.0)" fill="#141414"/><ellipse cx="14.6" cy="48.0" rx="3.0" ry="3.0" transform="rotate(0 14.6 48.0)" fill="#545454"/><ellipse cx="22.0" cy="68.0" rx="9.0" ry="7.0" transform="rotate(0 22.0 68.0)" fill="#9e9e9e"/><ellipse cx="40.0" cy="70.0" rx="8.0" ry="5.0" transform="rotate(20 40.0 70.0)" fill="#999999"/><ellipse cx="86.0" cy="22.0" rx="4.0" ry="3.0" transform="rotate(0 86.0 22.0)" fill="#4c4c4c"/><ellipse cx="18.0" cy="58.0" rx="3.0" ry="6.0" transform="rotate(30 18.0 58.0)" fill="#5c5c5c"/><ellipse cx="55.0" cy="75.0" rx="5.0" ry="3.0" transform="rotate(0 55.0 75.0)" fill="#616161"/></g></g><g transform="translate(56.4 45.5)"><g filter="url(#fb1b)"><rect width="44.4" height="54.4" fill="#919191"/><path d="M36.4 7.4L15.4 40.1" stroke="#cccccc" stroke-width="7.5" stroke-linecap="round"/><path d="M36.4 7.4L15.4 40.1" stroke="#ffffff" stroke-width="4.8" stroke-linecap="round"/><path d="M12.9 32.7L5.5 40.1" stroke="#ffffff" stroke-width="3.6" stroke-linecap="round" stroke-dasharray="3 2.5"/><ellipse cx="10.5" cy="14.8" rx="5.0" ry="2.2" transform="rotate(5 10.5 14.8)" fill="#000000"/><ellipse cx="26.5" cy="11.0" rx="7.0" ry="2.4" transform="rotate(10 26.5 11.0)" fill="#000000"/><ellipse cx="21.0" cy="20.0" rx="5.0" ry="1.6" transform="rotate(-50 21.0 20.0)" fill="#333333"/><ellipse cx="12.0" cy="22.0" rx="5.0" ry="3.0" transform="rotate(0 12.0 22.0)" fill="#616161"/><ellipse cx="11.0" cy="7.8" rx="9.0" ry="1.8" transform="rotate(-3 11.0 7.8)" fill="#c7c7c7"/><ellipse cx="15.4" cy="20.3" rx="1.6" ry="2.5" transform="rotate(0 15.4 20.3)" fill="#e0e0e0"/><ellipse cx="8.0" cy="30.0" rx="3.0" ry="2.0" transform="rotate(0 8.0 30.0)" fill="#666666"/><ellipse cx="25.0" cy="45.0" rx="8.0" ry="3.0" transform="rotate(0 25.0 45.0)" fill="#808080"/></g><rect x="1.7" y="1.7" width="41.0" height="51.0" fill="none" stroke="#fa0008" stroke-width="3.4"/></g></g><g transform="translate(903.1 81.6)"><rect width="101" height="99.9" fill="#00008f"/><g clip-path="url(#cmouse)"><g filter="url(#fb12)"><rect x="-5" y="-5" width="112" height="110" fill="#808080"/><ellipse cx="52.0" cy="29.0" rx="13.0" ry="4.5" transform="rotate(27 52.0 29.0)" fill="#0f0f0f"/><ellipse cx="62.0" cy="37.0" rx="4.0" ry="6.0" transform="rotate(35 62.0 37.0)" fill="#1a1a1a"/><ellipse cx="64.6" cy="16.0" rx="3.4" ry="5.5" transform="rotate(35 64.6 16.0)" fill="#e0e0e0"/><ellipse cx="64.6" cy="16.0" rx="1.5" ry="3.0" transform="rotate(35 64.6 16.0)" fill="#a8a8a8"/><ellipse cx="82.7" cy="39.3" rx="5.0" ry="5.5" transform="rotate(10 82.7 39.3)" fill="#ededed"/><ellipse cx="82.7" cy="39.3" rx="2.4" ry="2.8" transform="rotate(10 82.7 39.3)" fill="#999999"/><ellipse cx="33.6" cy="38.0" rx="6.0" ry="2.2" transform="rotate(-30 33.6 38.0)" fill="#d1d1d1"/><ellipse cx="20.7" cy="48.4" rx="3.0" ry="4.0" transform="rotate(30 20.7 48.4)" fill="#bfbfbf"/><ellipse cx="10.3" cy="76.8" rx="1.8" ry="6.0" transform="rotate(15 10.3 76.8)" fill="#e6e6e6"/><ellipse cx="23.2" cy="84.5" rx="4.0" ry="1.5" transform="rotate(15 23.2 84.5)" fill="#e0e0e0"/><ellipse cx="38.7" cy="83.2" rx="5.0" ry="1.5" transform="rotate(0 38.7 83.2)" fill="#d9d9d9"/><ellipse cx="25.8" cy="69.0" rx="9.0" ry="6.0" transform="rotate(0 25.8 69.0)" fill="#9e9e9e"/><ellipse cx="46.5" cy="58.7" rx="4.0" ry="3.0" transform="rotate(0 46.5 58.7)" fill="#595959"/><ellipse cx="86.0" cy="22.0" rx="4.0" ry="3.0" transform="rotate(0 86.0 22.0)" fill="#4c4c4c"/><ellipse cx="74.0" cy="20.0" rx="4.0" ry="2.5" transform="rotate(20 74.0 20.0)" fill="#575757"/><ellipse cx="42.0" cy="76.0" rx="5.0" ry="2.5" transform="rotate(10 42.0 76.0)" fill="#575757"/><ellipse cx="45.0" cy="48.0" rx="4.0" ry="2.5" transform="rotate(0 45.0 48.0)" fill="#b8b8b8"/><ellipse cx="15.0" cy="60.0" rx="3.0" ry="5.0" transform="rotate(20 15.0 60.0)" fill="#b2b2b2"/></g></g><g transform="translate(56.2 46.7)"><g filter="url(#fb1b)"><rect width="43.8" height="53.2" fill="#8a8a8a"/><path d="M36 8L24 46" stroke="#6b6b6b" stroke-width="5" stroke-linecap="round"/><path d="M17 3H36L31 9C26 10.5 12 13 5 15.5Z" fill="#000000"/><ellipse cx="8.3" cy="35.7" rx="3.8" ry="2.8" transform="rotate(-25 8.3 35.7)" fill="#ffffff"/><ellipse cx="16.5" cy="37.0" rx="4.0" ry="1.2" transform="rotate(0 16.5 37.0)" fill="#cccccc"/><ellipse cx="21.6" cy="21.0" rx="1.2" ry="1.2" transform="rotate(0 21.6 21.0)" fill="#ffffff"/><ellipse cx="11.0" cy="7.0" rx="8.5" ry="2.3" transform="rotate(-5 11.0 7.0)" fill="#b8b8b8"/><ellipse cx="9.0" cy="24.0" rx="4.0" ry="3.0" transform="rotate(0 9.0 24.0)" fill="#a8a8a8"/><ellipse cx="14.0" cy="46.0" rx="3.0" ry="4.0" transform="rotate(0 14.0 46.0)" fill="#adadad"/><ellipse cx="7.0" cy="19.0" rx="3.0" ry="2.0" transform="rotate(0 7.0 19.0)" fill="#666666"/><ellipse cx="17.0" cy="29.0" rx="2.5" ry="3.0" transform="rotate(0 17.0 29.0)" fill="#616161"/></g><rect x="1.7" y="1.7" width="40.4" height="49.8" fill="none" stroke="#fa0008" stroke-width="3.4"/></g></g><rect x="1011.8" y="92.4" width="8.9" height="82.7" fill="url(#jet)" stroke="#777" stroke-width="0.6"/><text x="1025.6" y="100.0" font-size="16.60" text-anchor="start" fill="#1a1a1a" font-family="Liberation Serif, serif" >0.2</text><text x="1025.6" y="172.6" font-size="16.60" text-anchor="start" fill="#1a1a1a" font-family="Liberation Serif, serif" >0</text><text x="849.0" y="72.2" font-size="23.30" text-anchor="middle" fill="#DC6E78" font-family="Liberation Serif, serif" >0.0400</text><text x="949.7" y="74.4" font-size="23.30" text-anchor="middle" fill="#6464D2" font-family="Liberation Serif, serif" >0.0279</text>
<defs><filter id="fg2" color-interpolation-filters="sRGB" x="-5%" y="-5%" width="110%" height="110%"><feGaussianBlur stdDeviation="0.5" result="b"/><feTurbulence type="fractalNoise" baseFrequency="0.05" numOctaves="2" seed="3" result="n"/><feColorMatrix in="n" type="matrix" values="1 0 0 0 0 1 0 0 0 0 1 0 0 0 0 0 0 0 0 1" result="ng"/><feComposite in="b" in2="ng" operator="arithmetic" k1="0" k2="1" k3="0.5" k4="-0.25" result="v"/><feComposite in="v" in2="SourceAlpha" operator="in"/></filter></defs><g transform="translate(731.1 304.3)"><rect width="108.2" height="105.3" fill="#000"/><g filter="url(#fg2)"><path d="M71.6 8.8C76.2 9.2 83.6 11.4 87.9 13.5C92.2 15.6 94.9 18.3 97.2 21.6C99.5 24.9 101.3 28.9 101.9 33.2C102.5 37.5 101.4 41.9 100.7 47.2C100.0 52.5 100.1 58.7 98.0 65.0C95.9 71.3 91.8 79.7 88.0 85.0C84.2 90.3 79.7 95.1 75.0 97.0C70.3 98.9 65.6 96.7 60.0 96.5C54.4 96.3 47.2 96.1 41.4 96.0C35.6 95.9 30.1 96.8 25.1 96.0C20.1 95.2 14.7 93.7 11.2 91.4C7.7 89.1 5.2 86.4 4.2 82.1C3.2 77.8 3.9 70.4 5.4 65.8C7.0 61.1 10.2 58.5 13.5 54.2C16.8 49.9 21.6 44.9 25.1 40.2C28.6 35.6 30.9 30.4 34.4 26.3C37.9 22.2 41.8 18.3 46.1 15.8C50.4 13.3 55.8 12.3 60.0 11.1C64.2 9.9 66.9 8.4 71.6 8.8Z" fill="#a2a2a2"/></g><g filter="url(#fblur2)" opacity="0.55"><ellipse cx="62" cy="24" rx="16" ry="7" fill="#c2c2c2" transform="rotate(-20 62 24)"/><ellipse cx="30" cy="72" rx="12" ry="10" fill="#b8b8b8"/><ellipse cx="52" cy="55" rx="14" ry="5" fill="#6c6c6c" transform="rotate(-35 52 55)"/><ellipse cx="86" cy="36" rx="8" ry="10" fill="#b4b4b4"/><ellipse cx="45" cy="38" rx="9" ry="5" fill="#b0b0b0" transform="rotate(-40 45 38)"/></g><path d="M51.6 47.3l2.4-1 2.6.4 1.2 1.8-1 2.2-2.8 1-2.4-.8-1-1.8z" fill="#f4f000"/><g transform="translate(60.0 47.7)"><rect width="46.1" height="56.5" fill="#8e8e8e"/><g filter="url(#fblur2)"><rect x="0" y="3" width="24" height="11" fill="#a2a2a2"/><rect x="0" y="15" width="30" height="9" fill="#757575" transform="rotate(-8 0 15)"/><ellipse cx="36" cy="30" rx="8" ry="20" fill="#989898"/><ellipse cx="12" cy="44" rx="7" ry="9" fill="#808080"/><ellipse cx="16" cy="50" rx="3.5" ry="4" fill="#a8a8a8"/></g><path d="M23.6 19l2.5-2.3h2.2l.8-1.2 2.4.2.6 2 2.2.6.4 2.6-2 1.6-1 2.2h-3.4l-1.4-1.6-2.6-.6-.9-2z" fill="#f6f200"/><rect x="1.7" y="1.7" width="42.7" height="53.1" fill="none" stroke="#fa0008" stroke-width="3.4"/></g></g><rect x="840.6" y="312.5" width="8.0" height="90.2" fill="url(#gray)" stroke="#9a9a9a" stroke-width="0.6"/><text x="852.2" y="317.6" font-size="11.20" text-anchor="start" fill="#222" font-family="Liberation Sans, sans-serif" >400</text><text x="852.2" y="362.9" font-size="11.20" text-anchor="start" fill="#222" font-family="Liberation Sans, sans-serif" >200</text><text x="852.2" y="407.8" font-size="11.20" text-anchor="start" fill="#222" font-family="Liberation Sans, sans-serif" >0</text>
<rect x="1043.8" y="354.0" width="43.2" height="22.8" fill="#FDE0E2" stroke="#F8C4C8" stroke-width="0.8"/><rect x="1043.8" y="384.6" width="43.2" height="22.8" fill="#E0E0FA" stroke="#C0C0F8" stroke-width="0.8"/><text x="1090.0" y="375.0" font-size="24.90" text-anchor="start" fill="#1a1a1a" font-family="Liberation Serif, serif" >without MC</text><text x="1090.0" y="405.0" font-size="24.90" text-anchor="start" fill="#1a1a1a" font-family="Liberation Serif, serif" >with MC</text>
<text x="648.3" y="46.6" font-size="28.50" text-anchor="start" fill="#1a1a1a" font-family="Liberation Serif, serif" >(b)</text>
<text x="714.8" y="48.1" font-size="28.50" text-anchor="end" fill="#1a1a1a" font-family="Liberation Serif, serif" >1</text>
<text x="714.8" y="241.7" font-size="28.50" text-anchor="end" fill="#1a1a1a" font-family="Liberation Serif, serif" >0.5</text>
<text x="714.8" y="435.1" font-size="28.50" text-anchor="end" fill="#1a1a1a" font-family="Liberation Serif, serif" >0</text>
<text x="724.8" y="461.8" font-size="28.50" text-anchor="middle" fill="#1a1a1a" font-family="Liberation Serif, serif" >6</text>
<text x="848.9" y="461.8" font-size="28.50" text-anchor="middle" fill="#1a1a1a" font-family="Liberation Serif, serif" >3</text>
<text x="972.6" y="461.8" font-size="28.50" text-anchor="middle" fill="#1a1a1a" font-family="Liberation Serif, serif" >0</text>
<text x="1096.3" y="461.8" font-size="28.50" text-anchor="middle" fill="#1a1a1a" font-family="Liberation Serif, serif" >-3</text>
<text x="1220.3" y="461.8" font-size="28.50" text-anchor="middle" fill="#1a1a1a" font-family="Liberation Serif, serif" >-6</text>
<text x="972.0" y="496.7" font-size="31.20" text-anchor="middle" fill="#1a1a1a" font-family="Liberation Serif, serif" >Frequency offset (ppm)</text>
<text transform="translate(655.5 260.3) rotate(-90)" font-size="30.8" fill="#1a1a1a" font-family="Liberation Serif, serif">S/S<tspan font-size="26" dy="14.5">0</tspan></text>
</svg></body></html>
